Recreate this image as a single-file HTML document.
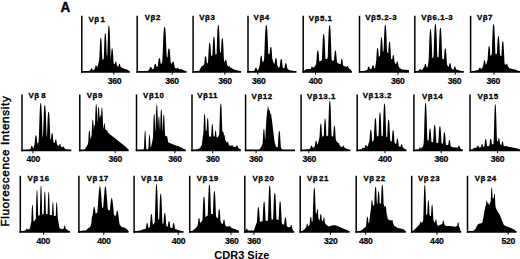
<!DOCTYPE html>
<html><head><meta charset="utf-8"><style>
html,body{margin:0;padding:0;background:#fff;width:520px;height:259px;overflow:hidden}
svg{display:block}
text{font-family:"Liberation Sans",sans-serif;font-weight:bold;fill:#000}
.lb{font-size:7.9px;letter-spacing:0.55px;stroke:#000;stroke-width:0.3px}
.tk{font-size:8.6px;letter-spacing:-0.3px;stroke:#000;stroke-width:0.2px}
</style></head><body>
<svg width="520" height="259" viewBox="0 0 520 259">
<defs><filter id="bl" x="-2%" y="-2%" width="104%" height="104%"><feGaussianBlur stdDeviation="0.3"/></filter></defs>
<g filter="url(#bl)">
<polygon points="81.80,71.80 81.80,71.80 82.05,71.79 82.30,71.76 82.55,71.73 82.80,71.69 83.05,71.66 83.30,71.63 83.55,71.59 83.80,71.56 84.05,71.53 84.30,71.49 84.55,71.46 84.80,71.43 85.05,71.39 85.30,71.36 85.55,71.33 85.80,71.29 86.05,71.26 86.30,71.23 86.55,71.19 86.80,71.16 87.05,71.13 87.30,71.09 87.55,71.06 87.80,71.03 88.05,70.99 88.30,70.91 88.55,70.84 88.80,70.77 89.05,70.70 89.30,70.63 89.55,70.56 89.80,70.49 90.05,70.41 90.30,70.34 90.55,69.67 90.80,68.93 91.05,68.48 91.30,68.32 91.55,68.30 91.80,68.35 92.05,68.62 92.30,69.20 92.55,70.00 92.80,70.00 93.05,70.00 93.30,70.00 93.55,70.00 93.80,70.00 94.05,69.93 94.30,69.57 94.55,69.21 94.80,68.86 95.05,68.02 95.30,66.73 95.55,65.87 95.80,65.48 96.05,65.40 96.30,65.42 96.55,65.66 96.80,66.33 97.05,67.00 97.30,67.00 97.55,66.79 97.80,65.76 98.05,64.73 98.30,63.69 98.55,62.66 98.80,61.63 99.05,60.75 99.30,59.26 99.55,52.68 99.80,46.44 100.05,41.71 100.30,38.94 100.55,37.86 100.80,37.70 101.05,37.86 101.30,38.94 101.55,41.71 101.80,46.44 102.05,52.68 102.30,59.26 102.55,59.40 102.80,59.47 103.05,59.53 103.30,59.60 103.55,59.66 103.80,57.53 104.05,50.05 104.30,42.95 104.55,37.56 104.80,34.41 105.05,33.18 105.30,33.00 105.55,33.18 105.80,34.41 106.05,37.56 106.30,42.95 106.55,50.05 106.80,55.86 107.05,55.64 107.30,54.80 107.55,46.46 107.80,38.42 108.05,32.03 108.30,27.97 108.55,26.08 108.80,25.61 109.05,25.64 109.30,26.32 109.55,28.60 109.80,33.13 110.05,39.93 110.30,48.16 110.55,56.37 110.80,58.86 111.05,55.19 111.30,51.69 111.55,49.53 111.80,48.59 112.05,48.40 112.30,48.46 112.55,49.02 112.80,50.66 113.05,53.65 113.30,57.78 113.55,62.32 113.80,63.67 114.05,64.26 114.30,64.08 114.55,63.90 114.80,63.72 115.05,63.22 115.30,61.98 115.55,61.47 115.80,61.40 116.05,61.47 116.30,61.98 116.55,63.22 116.80,65.00 117.05,65.50 117.30,66.00 117.55,66.50 117.80,66.54 118.05,66.46 118.30,66.38 118.55,66.30 118.80,64.87 119.05,64.03 119.30,63.73 119.55,63.70 119.80,63.80 120.05,64.29 120.30,65.38 120.55,66.73 120.80,66.91 121.05,67.08 121.30,67.25 121.55,67.43 121.80,67.60 122.05,67.78 122.30,67.95 122.55,68.13 122.80,68.30 123.05,68.38 123.30,68.45 123.55,68.53 123.80,68.60 124.05,68.68 124.30,68.76 124.55,68.83 124.80,68.91 125.05,68.98 125.30,69.06 125.55,69.14 125.80,69.21 126.05,69.29 126.30,69.37 126.55,69.44 126.80,69.52 127.05,69.59 127.30,69.67 127.55,69.82 127.80,70.02 128.05,70.23 128.30,70.43 128.55,70.63 128.80,70.83 129.05,71.03 129.30,71.23 129.55,71.44 129.80,71.64 129.90,71.80"/>
<line x1="81.8" y1="15.8" x2="81.8" y2="72.7" stroke="#000" stroke-width="1.5"/>
<line x1="81.05" y1="71.8" x2="129.9" y2="71.8" stroke="#000" stroke-width="1.8"/>
<line x1="113.8" y1="71.8" x2="113.8" y2="74.7" stroke="#000" stroke-width="1"/>
<polygon points="137.20,71.80 137.20,71.80 137.45,71.80 137.70,71.80 137.95,71.80 138.20,71.80 138.45,71.80 138.70,71.80 138.95,71.80 139.20,71.80 139.45,71.80 139.70,71.80 139.95,71.80 140.20,71.80 140.45,71.80 140.70,71.80 140.95,71.80 141.20,71.80 141.45,71.80 141.70,71.80 141.95,71.80 142.20,71.48 142.45,71.45 142.70,71.43 142.95,71.41 143.20,71.38 143.45,71.36 143.70,71.33 143.95,71.31 144.20,71.28 144.45,71.25 144.70,71.23 144.95,71.20 145.20,71.18 145.45,71.16 145.70,71.13 145.95,71.11 146.20,71.08 146.45,71.06 146.70,71.03 146.95,71.00 147.20,70.90 147.45,70.78 147.70,70.65 147.95,70.53 148.20,70.40 148.45,70.28 148.70,70.15 148.95,70.03 149.20,69.69 149.45,68.82 149.70,68.04 149.95,67.47 150.20,67.14 150.45,67.02 150.70,67.00 150.95,67.02 151.20,67.14 151.45,67.47 151.70,68.04 151.95,68.82 152.20,69.13 152.45,69.09 152.70,69.05 152.95,69.01 153.20,68.93 153.45,68.85 153.70,68.77 153.95,67.47 154.20,66.09 154.45,65.00 154.70,64.31 154.95,63.98 155.20,63.90 155.45,63.91 155.70,64.02 155.95,64.41 156.20,65.19 156.45,66.35 156.70,67.30 156.95,67.05 157.20,66.80 157.45,66.55 157.70,66.30 157.95,65.29 158.20,62.82 158.45,60.69 158.70,59.20 158.95,58.40 159.20,58.13 159.45,58.10 159.70,58.19 159.95,58.65 160.20,59.71 160.45,61.47 160.70,63.79 160.95,64.53 161.20,64.05 161.45,63.49 161.70,62.93 161.95,62.36 162.20,61.80 162.45,58.87 162.70,52.79 162.95,46.25 163.20,40.01 163.45,34.76 163.70,30.90 163.95,28.51 164.20,27.36 164.45,27.02 164.70,27.01 164.95,27.24 165.20,28.19 165.45,30.31 165.70,33.87 165.95,38.86 166.20,44.95 166.45,51.50 166.70,56.70 166.95,56.95 167.20,57.20 167.45,57.45 167.70,54.40 167.95,51.60 168.20,49.74 168.45,48.76 168.70,48.43 168.95,48.40 169.20,48.51 169.45,49.06 169.70,50.37 169.95,52.61 170.20,55.74 170.45,59.44 170.70,62.70 170.95,62.95 171.20,63.20 171.45,63.45 171.70,63.70 171.95,63.95 172.20,63.10 172.45,62.07 172.70,61.56 172.95,61.41 173.20,61.40 173.45,61.51 173.70,61.93 173.95,62.85 174.20,64.29 174.45,66.10 174.70,67.52 174.95,67.71 175.20,67.90 175.45,68.09 175.70,68.27 175.95,68.46 176.20,68.54 176.45,68.59 176.70,68.64 176.95,68.27 177.20,67.95 177.45,67.82 177.70,67.80 177.95,67.82 178.20,67.95 178.45,68.27 178.70,68.83 178.95,69.09 179.20,69.14 179.45,69.19 179.70,69.24 179.95,69.29 180.20,69.35 180.45,69.41 180.70,69.24 180.95,68.99 181.20,68.91 181.45,68.90 181.70,68.93 181.95,69.07 182.20,69.39 182.45,69.90 182.70,69.97 182.95,70.04 183.20,70.10 183.45,70.16 183.70,70.22 183.95,70.29 184.20,70.39 184.45,70.50 184.70,70.61 184.95,70.72 185.20,70.83 185.45,70.94 185.70,71.06 185.95,71.17 186.20,71.28 186.45,71.39 186.50,71.80"/>
<line x1="137.2" y1="15.8" x2="137.2" y2="72.7" stroke="#000" stroke-width="1.5"/>
<line x1="136.45" y1="71.8" x2="186.5" y2="71.8" stroke="#000" stroke-width="1.8"/>
<line x1="172.3" y1="71.8" x2="172.3" y2="74.7" stroke="#000" stroke-width="1"/>
<polygon points="193.10,71.80 193.10,71.80 193.35,71.80 193.60,71.80 193.85,71.80 194.10,71.49 194.35,71.45 194.60,71.42 194.85,71.38 195.10,71.35 195.35,71.31 195.60,71.28 195.85,71.24 196.10,71.21 196.35,71.17 196.60,71.14 196.85,71.10 197.10,71.07 197.35,71.03 197.60,71.00 197.85,70.96 198.10,70.93 198.35,70.89 198.60,70.86 198.85,70.82 199.10,70.64 199.35,70.22 199.60,69.81 199.85,69.40 200.10,68.99 200.35,68.57 200.60,68.16 200.85,67.75 201.10,67.43 201.35,66.85 201.60,66.13 201.85,65.84 202.10,65.80 202.35,65.84 202.60,66.13 202.85,66.11 203.10,65.85 203.35,65.48 203.60,65.10 203.85,64.73 204.10,64.35 204.35,63.05 204.60,60.20 204.85,58.03 205.10,56.77 205.35,56.27 205.60,56.20 205.85,56.27 206.10,56.77 206.35,58.03 206.60,60.20 206.85,63.05 207.10,63.64 207.35,63.59 207.60,63.05 207.85,62.50 208.10,61.09 208.35,55.84 208.60,50.77 208.85,46.75 209.10,44.19 209.35,43.00 209.60,42.71 209.85,42.72 210.10,43.15 210.35,44.59 210.60,47.44 210.85,51.73 211.10,56.15 211.35,55.69 211.60,55.55 211.85,55.50 212.10,55.44 212.35,55.38 212.60,51.15 212.85,45.19 213.10,40.65 213.35,37.91 213.60,36.73 213.85,36.50 214.10,36.57 214.35,37.28 214.60,39.34 214.85,43.17 215.10,48.65 215.35,54.59 215.60,54.52 215.85,54.45 216.10,54.33 216.35,54.16 216.60,53.98 216.85,46.53 217.10,38.74 217.35,32.33 217.60,27.97 217.85,25.66 218.10,24.88 218.35,24.80 218.60,25.06 218.85,26.36 219.10,29.45 219.35,34.67 219.60,41.75 219.85,49.77 220.10,51.70 220.35,52.13 220.60,52.57 220.85,53.00 221.10,49.70 221.35,44.46 221.60,40.81 221.85,38.84 222.10,38.17 222.35,38.10 222.60,38.32 222.85,39.44 223.10,42.06 223.35,46.40 223.60,52.09 223.85,58.22 224.10,61.46 224.35,61.53 224.60,61.60 224.85,61.67 225.10,60.78 225.35,59.92 225.60,59.63 225.85,59.60 226.10,59.70 226.35,60.19 226.60,61.32 226.85,63.14 227.10,64.47 227.35,65.04 227.60,65.60 227.85,66.16 228.10,66.55 228.35,66.67 228.60,66.80 228.85,66.24 229.10,66.02 229.35,66.00 229.60,66.07 229.85,66.42 230.10,67.21 230.35,67.67 230.60,67.80 230.85,67.92 231.10,67.99 231.35,67.74 231.60,67.70 231.85,67.74 232.10,67.99 232.35,68.59 232.60,68.80 232.85,68.92 233.10,69.05 233.35,69.17 233.60,69.30 233.85,69.42 234.10,69.53 234.35,69.59 234.60,69.65 234.85,69.71 235.10,69.78 235.35,69.84 235.60,69.90 235.85,69.96 236.10,70.03 236.35,70.09 236.60,70.15 236.85,70.21 237.10,70.28 237.35,70.34 237.60,70.40 237.85,70.46 238.10,70.53 238.35,70.59 238.60,70.65 238.85,70.71 239.10,70.78 239.35,70.84 239.60,70.90 239.85,70.96 240.10,71.03 240.35,71.09 240.60,71.15 240.85,71.21 241.00,71.80"/>
<line x1="193.1" y1="15.8" x2="193.1" y2="72.7" stroke="#000" stroke-width="1.5"/>
<line x1="192.35" y1="71.8" x2="241.0" y2="71.8" stroke="#000" stroke-width="1.8"/>
<line x1="224.9" y1="71.8" x2="224.9" y2="74.7" stroke="#000" stroke-width="1"/>
<polygon points="248.00,71.80 248.00,71.80 248.25,71.80 248.50,71.80 248.75,71.80 249.00,71.50 249.25,71.47 249.50,71.43 249.75,71.39 250.00,71.36 250.25,71.33 250.50,71.29 250.75,71.25 251.00,71.22 251.25,71.19 251.50,71.15 251.75,71.11 252.00,71.08 252.25,71.05 252.50,71.01 252.75,70.97 253.00,70.94 253.25,70.91 253.50,70.87 253.75,70.83 254.00,70.80 254.25,70.75 254.50,70.62 254.75,69.75 255.00,68.86 255.25,68.18 255.50,67.82 255.75,67.71 256.00,67.70 256.25,67.78 256.50,68.08 256.75,68.70 257.00,69.56 257.25,70.20 257.50,70.15 257.75,70.10 258.00,70.06 258.25,70.01 258.50,69.29 258.75,68.41 259.00,67.53 259.25,66.65 259.50,65.76 259.75,64.88 260.00,62.09 260.25,59.23 260.50,57.17 260.75,56.03 261.00,55.64 261.25,55.60 261.50,55.73 261.75,56.38 262.00,57.88 262.25,60.30 262.50,62.14 262.75,61.96 263.00,61.77 263.25,61.59 263.50,61.40 263.75,60.83 264.00,60.27 264.25,55.86 264.50,49.22 264.75,42.42 265.00,36.24 265.25,31.30 265.50,27.90 265.75,25.96 266.00,25.16 266.25,25.00 266.50,25.05 266.75,25.53 267.00,26.96 267.25,29.76 267.50,34.09 267.75,39.83 268.00,46.48 268.25,53.28 268.50,54.03 268.75,53.83 269.00,53.96 269.25,54.09 269.50,54.22 269.75,52.13 270.00,49.36 270.25,47.73 270.50,47.04 270.75,46.90 271.00,46.94 271.25,47.36 271.50,48.58 271.75,50.89 272.00,54.28 272.25,58.41 272.50,59.50 272.75,60.25 273.00,61.00 273.25,61.75 273.50,62.50 273.75,63.25 274.00,63.67 274.25,63.58 274.50,63.50 274.75,62.94 275.00,60.60 275.25,58.99 275.50,58.16 275.75,57.91 276.00,57.90 276.25,58.08 276.50,58.76 276.75,60.21 277.00,62.43 277.25,65.09 277.50,65.82 277.75,66.29 278.00,66.76 278.25,67.23 278.50,67.70 278.75,67.53 279.00,67.36 279.25,67.19 279.50,67.02 279.75,66.61 280.00,64.13 280.25,61.87 280.50,60.24 280.75,59.34 281.00,59.03 281.25,59.00 281.50,59.10 281.75,59.62 282.00,60.80 282.25,62.72 282.50,65.12 282.75,67.55 283.00,67.84 283.25,68.07 283.50,68.30 283.75,68.17 284.00,68.04 284.25,67.91 284.50,67.78 284.75,66.09 285.00,64.58 285.25,63.61 285.50,63.19 285.75,63.10 286.00,63.13 286.25,63.38 286.50,64.12 286.75,65.43 287.00,67.17 287.25,68.25 287.50,68.50 287.75,68.75 288.00,69.00 288.25,69.25 288.50,69.50 288.75,69.75 289.00,70.00 289.25,70.05 289.50,70.11 289.75,70.16 290.00,70.21 290.25,70.27 290.50,70.32 290.75,70.38 291.00,70.43 291.25,70.48 291.50,70.54 291.75,70.59 292.00,70.64 292.25,70.70 292.50,70.75 292.75,70.80 293.00,70.86 293.25,70.91 293.50,70.96 293.75,71.02 294.00,71.07 294.25,71.12 294.50,71.18 294.75,71.23 295.00,71.29 295.25,71.34 295.50,71.39 295.75,71.45 296.00,71.50 296.25,71.80 296.50,71.80 296.50,71.80"/>
<line x1="248.0" y1="15.8" x2="248.0" y2="72.7" stroke="#000" stroke-width="1.5"/>
<line x1="247.25" y1="71.8" x2="296.5" y2="71.8" stroke="#000" stroke-width="1.8"/>
<line x1="257.8" y1="71.8" x2="257.8" y2="74.7" stroke="#000" stroke-width="1"/>
<polygon points="303.20,71.80 303.20,71.35 303.45,71.17 303.70,70.99 303.95,70.80 304.20,70.62 304.45,70.44 304.70,70.25 304.95,70.07 305.20,69.89 305.45,69.70 305.70,69.52 305.95,69.34 306.20,69.28 306.45,69.27 306.70,69.25 306.95,69.23 307.20,69.21 307.45,69.19 307.70,69.17 307.95,69.15 308.20,69.14 308.45,69.12 308.70,69.10 308.95,69.08 309.20,69.06 309.45,69.04 309.70,69.02 309.95,69.00 310.20,68.93 310.45,68.85 310.70,68.77 310.95,68.68 311.20,67.68 311.45,66.98 311.70,66.66 311.95,66.60 312.20,66.62 312.45,66.81 312.70,67.35 312.95,68.02 313.20,67.82 313.45,67.59 313.70,67.36 313.95,67.14 314.20,66.91 314.45,66.68 314.70,66.45 314.95,66.23 315.20,66.00 315.45,65.44 315.70,64.89 315.95,64.33 316.20,63.78 316.45,60.06 316.70,56.34 316.95,53.38 317.20,51.50 317.45,50.62 317.70,50.41 317.95,50.42 318.20,50.73 318.45,51.79 318.70,53.89 318.95,57.04 319.20,60.85 319.45,61.53 319.70,61.48 319.95,61.43 320.20,61.32 320.45,61.11 320.70,60.90 320.95,60.70 321.20,60.49 321.45,60.28 321.70,60.08 321.95,59.10 322.20,52.78 322.45,46.40 322.70,40.96 322.95,37.11 323.20,34.95 323.45,34.12 323.70,34.00 323.95,34.12 324.20,34.95 324.45,37.11 324.70,40.96 324.95,46.40 325.20,52.78 325.45,59.00 325.70,59.00 325.95,59.00 326.20,58.97 326.45,58.88 326.70,58.79 326.95,58.71 327.20,58.62 327.45,58.53 327.70,57.36 327.95,50.14 328.20,42.56 328.45,35.74 328.70,30.50 328.95,27.15 329.20,25.51 329.45,25.03 329.70,25.01 329.95,25.34 330.20,26.70 330.45,29.68 330.70,34.55 330.95,41.11 331.20,48.61 331.45,56.00 331.70,60.16 331.95,60.36 332.20,60.56 332.45,60.76 332.70,60.74 332.95,60.66 333.20,60.58 333.45,60.50 333.70,60.42 333.95,60.34 334.20,57.77 334.45,54.44 334.70,52.12 334.95,50.87 335.20,50.44 335.45,50.40 335.70,50.54 335.95,51.25 336.20,52.91 336.45,55.67 336.70,59.28 336.95,62.24 337.20,62.53 337.45,62.81 337.70,63.10 337.95,63.20 338.20,63.30 338.45,63.39 338.70,63.49 338.95,63.59 339.20,63.69 339.45,63.78 339.70,63.88 339.95,63.98 340.20,64.10 340.45,64.22 340.70,63.92 340.95,61.57 341.20,59.97 341.45,59.20 341.70,59.00 341.95,59.02 342.20,59.30 342.45,60.22 342.70,61.99 342.95,64.45 343.20,65.56 343.45,65.68 343.70,65.80 343.95,65.93 344.20,66.03 344.45,66.12 344.70,66.21 344.95,66.29 345.20,66.38 345.45,66.47 345.70,66.55 345.95,66.64 346.20,66.72 346.45,66.81 346.70,66.90 346.95,66.68 347.20,66.17 347.45,66.01 347.70,66.00 347.95,66.11 348.20,66.54 348.45,67.41 348.70,68.13 348.95,68.30 349.20,68.47 349.45,68.63 349.70,68.80 349.95,68.97 350.20,69.25 350.45,69.56 350.70,69.87 350.95,70.19 351.20,70.50 351.45,70.81 351.70,71.12 351.95,71.44 352.00,71.80"/>
<line x1="303.2" y1="15.8" x2="303.2" y2="72.7" stroke="#000" stroke-width="1.5"/>
<line x1="302.45" y1="71.8" x2="352.0" y2="71.8" stroke="#000" stroke-width="1.8"/>
<line x1="315.5" y1="71.8" x2="315.5" y2="74.7" stroke="#000" stroke-width="1"/>
<polygon points="359.50,71.80 359.50,71.80 359.75,71.80 360.00,71.50 360.25,71.46 360.50,71.42 360.75,71.38 361.00,71.33 361.25,71.29 361.50,71.25 361.75,71.21 362.00,71.17 362.25,71.12 362.50,71.08 362.75,71.04 363.00,71.00 363.25,70.96 363.50,70.92 363.75,70.88 364.00,70.83 364.25,70.79 364.50,70.75 364.75,70.71 365.00,70.67 365.25,70.62 365.50,70.58 365.75,70.54 366.00,70.50 366.25,70.38 366.50,70.25 366.75,70.12 367.00,70.00 367.25,69.88 367.50,69.43 367.75,68.28 368.00,67.35 368.25,66.81 368.50,66.62 368.75,66.60 369.00,66.66 369.25,66.98 369.50,67.68 369.75,68.73 370.00,69.10 370.25,69.05 370.50,69.00 370.75,68.95 371.00,68.90 371.25,68.79 371.50,68.68 371.75,68.56 372.00,67.55 372.25,66.27 372.50,65.47 372.75,65.15 373.00,65.10 373.25,65.15 373.50,65.47 373.75,66.27 374.00,67.55 374.25,68.19 374.50,68.22 374.75,68.26 375.00,68.30 375.25,66.86 375.50,65.42 375.75,63.99 376.00,62.55 376.25,60.37 376.50,55.82 376.75,52.04 377.00,49.57 377.25,48.40 377.50,48.11 377.75,48.12 378.00,48.55 378.25,49.95 378.50,52.70 378.75,56.70 379.00,56.86 379.25,56.57 379.50,56.34 379.75,56.12 380.00,55.89 380.25,50.26 380.50,44.62 380.75,40.50 381.00,38.14 381.25,37.23 381.50,37.10 381.75,37.23 382.00,38.14 382.25,40.50 382.50,44.62 382.75,50.26 383.00,51.67 383.25,51.38 383.50,51.18 383.75,46.98 384.00,39.55 384.25,33.26 384.50,28.75 384.75,26.12 385.00,25.02 385.25,24.80 385.50,24.86 385.75,25.53 386.00,27.48 386.25,31.23 386.50,36.85 386.75,43.93 387.00,51.56 387.25,52.18 387.50,52.58 387.75,52.99 388.00,53.39 388.25,53.12 388.50,48.22 388.75,44.65 389.00,42.60 389.25,41.81 389.50,41.70 389.75,41.81 390.00,42.60 390.25,44.65 390.50,48.22 390.75,53.12 391.00,58.48 391.25,58.91 391.50,59.00 391.75,59.00 392.00,59.00 392.25,59.00 392.50,57.36 392.75,55.81 393.00,55.13 393.25,55.00 393.50,55.04 393.75,55.45 394.00,56.62 394.25,58.77 394.50,61.73 394.75,62.58 395.00,63.09 395.25,63.60 395.50,63.73 395.75,63.77 396.00,63.80 396.25,63.84 396.50,63.17 396.75,62.01 397.00,61.50 397.25,61.40 397.50,61.43 397.75,61.74 398.00,62.62 398.25,64.19 398.50,66.11 398.75,66.55 399.00,67.00 399.25,67.44 399.50,67.77 399.75,67.94 400.00,68.12 400.25,68.29 400.50,68.46 400.75,68.63 401.00,68.81 401.25,68.98 401.50,69.15 401.75,69.33 402.00,69.50 402.25,69.52 402.50,69.54 402.75,69.55 403.00,69.57 403.25,69.59 403.50,69.61 403.75,69.62 404.00,69.64 404.25,69.66 404.50,69.68 404.75,69.70 405.00,69.71 405.25,69.73 405.50,69.75 405.75,69.77 406.00,69.79 406.25,69.80 406.50,69.82 406.75,69.84 407.00,69.86 407.25,69.88 407.50,69.89 407.75,69.91 408.00,69.93 408.25,69.95 408.50,69.96 408.75,69.98 409.00,70.00 409.00,71.80"/>
<line x1="359.5" y1="15.8" x2="359.5" y2="72.7" stroke="#000" stroke-width="1.5"/>
<line x1="358.75" y1="71.8" x2="409.0" y2="71.8" stroke="#000" stroke-width="1.8"/>
<line x1="398.0" y1="71.8" x2="398.0" y2="74.7" stroke="#000" stroke-width="1"/>
<polygon points="414.80,71.80 414.80,71.80 415.05,71.49 415.30,71.42 415.55,71.36 415.80,71.30 416.05,71.24 416.30,71.17 416.55,71.11 416.80,71.05 417.05,70.99 417.30,70.92 417.55,70.86 417.80,70.80 418.05,70.74 418.30,70.67 418.55,70.61 418.80,70.55 419.05,70.49 419.30,70.12 419.55,69.44 419.80,69.04 420.05,68.91 420.30,68.90 420.55,68.99 420.80,69.33 421.05,69.97 421.30,70.12 421.55,70.08 421.80,70.03 422.05,69.93 422.30,69.60 422.55,69.27 422.80,68.93 423.05,68.60 423.30,68.27 423.55,67.93 423.80,67.60 424.05,67.27 424.30,66.93 424.55,65.48 424.80,64.50 425.05,64.02 425.30,63.90 425.55,63.91 425.80,64.08 426.05,64.65 426.30,65.74 426.55,67.05 426.80,67.22 427.05,67.39 427.30,67.56 427.55,67.39 427.80,65.84 428.05,64.28 428.30,62.73 428.55,61.17 428.80,56.05 429.05,48.79 429.30,41.69 429.55,35.85 429.80,31.89 430.05,29.79 430.30,29.07 430.55,29.00 430.80,29.23 431.05,30.43 431.30,33.24 431.55,37.98 431.80,44.43 432.05,51.74 432.30,57.99 432.55,57.91 432.80,57.83 433.05,57.73 433.30,57.64 433.55,55.66 433.80,48.12 434.05,40.45 434.30,33.75 434.55,28.78 434.80,25.74 435.05,24.35 435.30,24.01 435.55,24.03 435.80,24.52 436.05,26.20 436.30,29.62 436.55,34.97 436.80,41.94 437.05,49.67 437.30,57.05 437.55,57.29 437.80,57.27 438.05,57.24 438.30,57.21 438.55,57.18 438.80,52.60 439.05,45.01 439.30,38.09 439.55,32.79 439.80,29.50 440.05,27.98 440.30,27.61 440.55,27.63 440.80,28.17 441.05,30.00 441.30,33.70 441.55,39.37 441.80,46.52 442.05,54.09 442.30,58.64 442.55,58.82 442.80,59.00 443.05,59.11 443.30,59.23 443.55,59.34 443.80,59.45 444.05,57.27 444.30,53.47 444.55,50.69 444.80,49.10 445.05,48.49 445.30,48.40 445.55,48.49 445.80,49.10 446.05,50.69 446.30,53.47 446.55,57.27 446.80,61.53 447.05,64.51 447.30,65.06 447.55,65.61 447.80,66.16 448.05,66.60 448.30,66.58 448.55,66.57 448.80,66.56 449.05,65.43 449.30,64.12 449.55,63.38 449.80,63.13 450.05,63.10 450.30,63.19 450.55,63.61 450.80,64.58 451.05,66.09 451.30,67.89 451.55,68.29 451.80,68.58 452.05,68.87 452.30,69.15 452.55,69.44 452.80,69.46 453.05,69.41 453.30,69.35 453.55,69.30 453.80,68.96 454.05,67.87 454.30,67.09 454.55,66.70 454.80,66.60 455.05,66.61 455.30,66.75 455.55,67.21 455.80,68.07 456.05,69.20 456.30,69.43 456.55,69.52 456.80,69.60 457.05,69.68 457.30,69.77 457.55,69.85 457.80,69.93 458.05,70.02 458.30,70.09 458.55,70.17 458.80,70.24 459.05,70.31 459.30,70.39 459.55,70.47 459.80,70.54 460.05,70.62 460.30,70.69 460.55,70.77 460.80,70.84 461.05,70.92 461.30,70.99 461.55,71.06 461.80,71.14 462.05,71.22 462.30,71.29 462.55,71.37 462.80,71.44 463.05,71.80 463.30,71.80 463.55,71.80 463.80,71.80 463.80,71.80"/>
<line x1="414.8" y1="15.8" x2="414.8" y2="72.7" stroke="#000" stroke-width="1.5"/>
<line x1="414.05" y1="71.8" x2="463.8" y2="71.8" stroke="#000" stroke-width="1.8"/>
<line x1="455.2" y1="71.8" x2="455.2" y2="74.7" stroke="#000" stroke-width="1"/>
<polygon points="470.60,71.80 470.60,71.80 470.85,71.80 471.10,71.48 471.35,71.43 471.60,71.38 471.85,71.33 472.10,71.28 472.35,71.23 472.60,71.18 472.85,71.13 473.10,71.08 473.35,71.03 473.60,70.98 473.85,70.93 474.10,70.88 474.35,70.83 474.60,70.78 474.85,70.73 475.10,70.68 475.35,70.63 475.60,70.58 475.85,70.53 476.10,70.47 476.35,70.38 476.60,70.30 476.85,70.22 477.10,70.13 477.35,70.05 477.60,69.97 477.85,69.88 478.10,69.80 478.35,69.72 478.60,69.63 478.85,69.02 479.10,68.29 479.35,67.87 479.60,67.71 479.85,67.70 480.10,67.75 480.35,68.00 480.60,68.55 480.85,68.81 481.10,68.71 481.35,68.62 481.60,68.52 481.85,68.43 482.10,68.34 482.35,67.86 482.60,67.12 482.85,66.39 483.10,65.65 483.35,64.91 483.60,62.91 483.85,61.30 484.10,60.47 484.35,60.21 484.60,60.20 484.85,60.38 485.10,61.08 485.35,62.53 485.60,64.31 485.85,64.51 486.10,64.72 486.35,64.23 486.60,63.29 486.85,62.34 487.10,61.40 487.35,60.46 487.60,59.51 487.85,55.85 488.10,51.67 488.35,48.62 488.60,46.87 488.85,46.20 489.10,46.10 489.35,46.20 489.60,46.87 489.85,48.62 490.10,51.67 490.35,55.85 490.60,55.77 490.85,55.54 491.10,55.25 491.35,54.95 491.60,54.65 491.85,52.73 492.10,45.00 492.35,37.60 492.60,31.53 492.85,27.34 493.10,25.01 493.35,24.13 493.60,24.00 493.85,24.13 494.10,25.01 494.35,27.34 494.60,31.53 494.85,37.60 495.10,45.00 495.35,52.73 495.60,54.21 495.85,54.33 496.10,54.33 496.35,54.15 496.60,53.98 496.85,53.80 497.10,48.91 497.35,43.52 497.60,39.54 497.85,37.19 498.10,36.20 498.35,36.00 498.60,36.06 498.85,36.66 499.10,38.41 499.35,41.73 499.60,46.62 499.85,52.55 500.10,55.37 500.35,55.61 500.60,55.64 500.85,55.68 501.10,55.72 501.35,55.76 501.60,51.67 501.85,46.90 502.10,43.57 502.35,41.78 502.60,41.16 502.85,41.10 503.10,41.30 503.35,42.32 503.60,44.71 503.85,48.66 504.10,53.84 504.35,59.43 504.60,63.81 504.85,64.35 505.10,64.42 505.35,64.50 505.60,64.57 505.85,64.65 506.10,64.65 506.35,63.96 506.60,63.72 506.85,63.70 507.10,63.78 507.35,64.18 507.60,65.08 507.85,66.17 508.10,66.51 508.35,66.86 508.60,67.20 508.85,67.54 509.10,67.89 509.35,68.23 509.60,68.34 509.85,68.40 510.10,68.45 510.35,68.50 510.60,68.56 510.85,68.61 511.10,68.66 511.35,68.72 511.60,68.77 511.85,68.83 512.10,68.88 512.35,68.93 512.60,68.99 512.85,69.04 513.10,69.09 513.35,69.15 513.60,69.20 513.85,69.25 514.10,69.31 514.35,69.36 514.60,69.41 514.85,69.47 515.10,69.54 515.35,69.64 515.60,69.74 515.85,69.84 516.10,69.94 516.35,70.04 516.60,70.14 516.85,70.24 517.10,70.34 517.35,70.44 517.60,70.54 517.85,70.64 518.10,70.74 518.35,70.84 518.60,70.94 518.85,71.04 519.10,71.14 519.35,71.24 519.60,71.34 519.85,71.44 520.10,71.80 520.35,71.80 520.50,71.80"/>
<line x1="470.6" y1="15.8" x2="470.6" y2="72.7" stroke="#000" stroke-width="1.5"/>
<line x1="469.85" y1="71.8" x2="520.5" y2="71.8" stroke="#000" stroke-width="1.8"/>
<line x1="494.0" y1="71.8" x2="494.0" y2="74.7" stroke="#000" stroke-width="1"/>
<polygon points="22.00,150.30 22.00,150.30 22.25,150.30 22.50,150.30 22.75,150.27 23.00,150.25 23.25,150.22 23.50,150.19 23.75,150.17 24.00,150.14 24.25,150.11 24.50,150.09 24.75,150.06 25.00,150.03 25.25,150.01 25.50,149.98 25.75,149.95 26.00,149.93 26.25,149.90 26.50,149.87 26.75,149.85 27.00,149.82 27.25,149.79 27.50,149.77 27.75,149.74 28.00,149.71 28.25,149.69 28.50,149.66 28.75,149.63 29.00,149.61 29.25,149.58 29.50,149.55 29.75,149.53 30.00,149.50 30.25,149.29 30.50,149.01 30.75,147.95 31.00,146.88 31.25,146.12 31.50,145.77 31.75,145.70 32.00,145.72 32.25,145.94 32.50,146.53 32.75,147.50 33.00,148.00 33.25,148.00 33.50,148.00 33.75,147.36 34.00,146.29 34.25,145.21 34.50,144.14 34.75,141.68 35.00,138.80 35.25,136.73 35.50,135.65 35.75,135.32 36.00,135.31 36.25,135.53 36.50,136.44 36.75,138.31 37.00,141.07 37.25,143.05 37.50,143.17 37.75,143.28 38.00,143.40 38.25,142.85 38.50,142.30 38.75,139.87 39.00,132.94 39.25,124.92 39.50,117.10 39.75,110.66 40.00,106.28 40.25,103.97 40.50,103.18 40.75,103.10 41.00,103.36 41.25,104.67 41.50,107.77 41.75,113.01 42.00,120.12 42.25,128.18 42.50,135.90 42.75,136.93 43.00,136.51 43.25,129.12 43.50,121.40 43.75,114.59 44.00,109.57 44.25,106.61 44.50,105.35 44.75,105.10 45.00,105.17 45.25,105.93 45.50,108.15 45.75,112.34 46.00,118.50 46.25,126.00 46.50,133.67 46.75,137.00 47.00,136.10 47.25,129.13 47.50,122.41 47.75,117.07 48.00,113.68 48.25,112.10 48.50,111.71 48.75,111.73 49.00,112.30 49.25,114.20 49.50,117.99 49.75,123.67 50.00,130.55 50.25,137.41 50.50,139.44 50.75,139.53 51.00,139.62 51.25,136.47 51.50,134.31 51.75,133.27 52.00,133.01 52.25,133.02 52.50,133.40 52.75,134.65 53.00,137.04 53.25,140.36 53.50,142.33 53.75,142.72 54.00,142.82 54.25,142.84 54.50,142.86 54.75,142.89 55.00,141.67 55.25,140.19 55.50,139.53 55.75,139.40 56.00,139.44 56.25,139.84 56.50,140.98 56.75,142.92 57.00,144.42 57.25,144.78 57.50,145.13 57.75,145.49 58.00,145.71 58.25,145.75 58.50,145.79 58.75,145.82 59.00,145.86 59.25,145.36 59.50,144.44 59.75,144.06 60.00,144.00 60.25,144.06 60.50,144.44 60.75,145.36 61.00,146.56 61.25,146.70 61.50,146.84 61.75,146.95 62.00,147.03 62.25,147.12 62.50,147.20 62.75,147.21 63.00,146.68 63.25,146.51 63.50,146.50 63.75,146.62 64.00,147.07 64.25,147.90 64.50,148.26 64.75,148.43 65.00,148.61 65.25,148.78 65.50,148.95 65.75,149.13 66.00,149.30 66.25,149.35 66.50,149.39 66.75,149.44 67.00,149.48 67.25,149.53 67.50,149.57 67.75,149.62 68.00,149.66 68.25,149.71 68.50,149.75 68.75,149.80 69.00,149.85 69.25,149.89 69.50,149.94 69.75,149.98 70.00,150.03 70.25,150.07 70.50,150.12 70.75,150.16 71.00,150.21 71.25,150.25 71.30,150.30"/>
<line x1="22.0" y1="94.4" x2="22.0" y2="151.20000000000002" stroke="#000" stroke-width="1.5"/>
<line x1="21.25" y1="150.3" x2="71.3" y2="150.3" stroke="#000" stroke-width="1.8"/>
<line x1="33.0" y1="150.3" x2="33.0" y2="153.20000000000002" stroke="#000" stroke-width="1"/>
<polygon points="79.80,150.30 79.80,150.30 80.05,150.29 80.30,150.26 80.55,150.23 80.80,150.20 81.05,150.17 81.30,150.14 81.55,150.11 81.80,150.08 82.05,150.04 82.30,150.01 82.55,149.98 82.80,149.95 83.05,149.92 83.30,149.89 83.55,149.86 83.80,149.83 84.05,149.76 84.30,149.55 84.55,149.34 84.80,149.13 85.05,148.93 85.30,148.63 85.55,148.20 85.80,147.78 86.05,147.35 86.30,146.93 86.55,146.50 86.80,146.07 87.05,145.65 87.30,145.22 87.55,144.80 87.80,144.37 88.05,143.76 88.30,141.13 88.55,136.42 88.80,132.83 89.05,130.99 89.30,130.51 89.55,130.54 89.80,131.22 90.05,133.41 90.30,137.31 90.55,139.52 90.80,138.62 91.05,137.71 91.30,136.81 91.55,135.90 91.80,130.76 92.05,124.88 92.30,121.20 92.55,119.72 92.80,119.50 93.05,119.72 93.30,121.20 93.55,124.88 93.80,129.72 94.05,127.32 94.30,125.39 94.55,125.00 94.80,125.12 95.05,123.76 95.30,114.88 95.55,108.50 95.80,105.17 96.05,104.16 96.30,104.12 96.55,104.82 96.80,107.60 97.05,113.36 97.30,121.86 97.55,121.77 97.80,114.20 98.05,109.36 98.30,107.23 98.55,106.80 98.80,106.93 99.05,108.22 99.30,111.91 99.55,118.47 99.80,117.46 100.05,115.32 100.30,115.00 100.55,115.32 100.80,117.46 101.05,116.16 101.30,110.83 101.55,108.26 101.80,107.62 102.05,107.65 102.30,108.58 102.55,111.67 102.80,117.56 103.05,125.77 103.30,128.52 103.55,128.62 103.80,125.74 104.05,123.72 104.30,123.21 104.55,123.24 104.80,123.98 105.05,126.38 105.30,129.52 105.55,129.79 105.80,130.05 106.05,130.32 106.30,130.59 106.55,130.20 106.80,129.81 107.05,129.83 107.30,130.39 107.55,131.92 107.80,132.19 108.05,132.45 108.30,132.70 108.55,132.95 108.80,133.20 109.05,133.45 109.30,133.70 109.55,133.95 109.80,134.20 110.05,134.44 110.30,134.63 110.55,134.83 110.80,135.02 111.05,135.22 111.30,135.41 111.55,135.61 111.80,135.80 112.05,136.00 112.30,136.19 112.55,136.39 112.80,136.58 113.05,136.78 113.30,136.97 113.55,137.17 113.80,137.36 114.05,137.56 114.30,137.75 114.55,137.95 114.80,138.14 115.05,138.34 115.30,138.54 115.55,138.74 115.80,138.94 116.05,139.14 116.30,139.34 116.55,139.54 116.80,139.74 117.05,139.94 117.30,140.14 117.55,140.34 117.80,140.54 118.05,140.74 118.30,140.94 118.55,141.14 118.80,141.34 119.05,141.54 119.30,141.74 119.55,141.94 119.80,142.14 120.05,142.34 120.30,142.53 120.55,142.73 120.80,142.92 121.05,143.12 121.30,143.31 121.55,143.51 121.80,143.70 122.05,143.90 122.30,144.09 122.55,144.29 122.80,144.48 123.05,144.68 123.30,144.87 123.55,145.07 123.80,145.26 124.05,145.46 124.30,145.65 124.55,145.85 124.80,146.04 125.05,146.24 125.30,146.47 125.55,146.69 125.80,146.92 126.05,147.14 126.30,147.37 126.55,147.59 126.80,147.82 127.05,148.07 127.30,148.41 127.55,148.74 127.80,149.08 128.05,149.42 128.30,149.76 128.55,150.10 128.70,150.30"/>
<line x1="79.8" y1="94.4" x2="79.8" y2="151.20000000000002" stroke="#000" stroke-width="1.5"/>
<line x1="79.05" y1="150.3" x2="128.7" y2="150.3" stroke="#000" stroke-width="1.8"/>
<line x1="115.2" y1="150.3" x2="115.2" y2="153.20000000000002" stroke="#000" stroke-width="1"/>
<polygon points="136.50,150.30 136.50,150.30 136.75,150.30 137.00,150.30 137.25,150.28 137.50,150.26 137.75,150.24 138.00,150.22 138.25,150.20 138.50,150.18 138.75,150.15 139.00,150.13 139.25,150.11 139.50,150.09 139.75,150.07 140.00,150.05 140.25,150.03 140.50,150.01 140.75,149.99 141.00,149.97 141.25,149.95 141.50,149.93 141.75,149.90 142.00,149.88 142.25,149.86 142.50,149.84 142.75,149.82 143.00,149.80 143.25,149.79 143.50,149.77 143.75,149.62 144.00,147.11 144.25,141.77 144.50,135.58 144.75,131.63 145.00,130.53 145.25,130.59 145.50,132.16 145.75,136.71 146.00,143.02 146.25,147.84 146.50,149.59 146.75,149.57 147.00,149.56 147.25,149.55 147.50,149.53 147.75,149.51 148.00,149.50 148.25,149.21 148.50,146.27 148.75,141.39 149.00,136.91 149.25,134.74 149.50,134.40 149.75,134.74 150.00,136.91 150.25,141.39 150.50,146.27 150.75,148.06 151.00,147.11 151.25,146.17 151.50,145.11 151.75,143.87 152.00,142.64 152.25,141.40 152.50,140.17 152.75,138.93 153.00,136.87 153.25,128.08 153.50,120.37 153.75,115.67 154.00,113.97 154.25,113.80 154.50,114.37 154.75,117.15 155.00,123.16 155.25,130.90 155.50,130.80 155.75,123.38 156.00,114.18 156.25,108.03 156.50,105.26 156.75,104.70 157.00,104.87 157.25,106.55 157.50,111.29 157.75,119.43 158.00,128.07 158.25,121.38 158.50,117.63 158.75,116.47 159.00,116.42 159.25,117.23 159.50,120.38 159.75,126.54 160.00,131.00 160.25,126.03 160.50,117.74 160.75,112.20 161.00,109.70 161.25,109.20 161.50,109.35 161.75,110.87 162.00,115.14 162.25,122.48 162.50,130.62 162.75,131.04 163.00,123.61 163.25,117.70 163.50,114.96 163.75,114.40 164.00,114.57 164.25,116.24 164.50,120.86 164.75,128.44 165.00,135.27 165.25,135.72 165.50,135.81 165.75,135.89 166.00,135.98 166.25,136.07 166.50,136.16 166.75,136.24 167.00,136.33 167.25,136.70 167.50,138.17 167.75,139.65 168.00,141.12 168.25,142.32 168.50,142.43 168.75,142.55 169.00,142.66 169.25,142.77 169.50,142.88 169.75,142.99 170.00,143.11 170.25,143.22 170.50,143.33 170.75,143.44 171.00,143.56 171.25,143.66 171.50,143.75 171.75,143.85 172.00,143.94 172.25,144.03 172.50,144.13 172.75,144.22 173.00,144.32 173.25,144.41 173.50,144.51 173.75,144.60 174.00,144.69 174.25,144.79 174.50,144.88 174.75,144.98 175.00,145.07 175.25,145.17 175.50,145.26 175.75,145.35 176.00,145.45 176.25,145.54 176.50,145.64 176.75,145.73 177.00,145.82 177.25,145.91 177.50,146.00 177.75,146.09 178.00,146.18 178.25,146.28 178.50,146.37 178.75,146.46 179.00,146.55 179.25,146.64 179.50,146.73 179.75,146.82 180.00,146.92 180.25,147.01 180.50,147.10 180.75,147.19 181.00,147.28 181.25,147.37 181.50,147.46 181.75,147.60 182.00,147.77 182.25,147.94 182.50,148.11 182.75,148.29 183.00,148.46 183.25,148.63 183.50,148.80 183.75,148.97 184.00,149.14 184.25,149.31 184.50,149.48 184.75,149.65 185.00,149.82 185.25,149.99 185.50,150.16 185.75,150.30 185.80,150.30"/>
<line x1="136.5" y1="94.4" x2="136.5" y2="151.20000000000002" stroke="#000" stroke-width="1.5"/>
<line x1="135.75" y1="150.3" x2="185.8" y2="150.3" stroke="#000" stroke-width="1.8"/>
<line x1="174.9" y1="150.3" x2="174.9" y2="153.20000000000002" stroke="#000" stroke-width="1"/>
<polygon points="192.00,150.30 192.00,150.30 192.25,150.30 192.50,150.27 192.75,150.22 193.00,150.18 193.25,150.14 193.50,150.10 193.75,150.05 194.00,150.01 194.25,149.97 194.50,149.93 194.75,149.88 195.00,149.84 195.25,149.80 195.50,149.76 195.75,149.71 196.00,149.67 196.25,149.63 196.50,149.59 196.75,149.54 197.00,149.50 197.25,149.38 197.50,149.25 197.75,149.12 198.00,149.00 198.25,148.88 198.50,148.75 198.75,148.62 199.00,148.50 199.25,148.38 199.50,148.25 199.75,148.12 200.00,148.00 200.25,147.58 200.50,147.17 200.75,146.75 201.00,146.33 201.25,145.92 201.50,145.50 201.75,145.08 202.00,143.39 202.25,141.37 202.50,139.35 202.75,137.33 203.00,135.31 203.25,133.65 203.50,130.38 203.75,122.70 204.00,117.22 204.25,114.51 204.50,113.82 204.75,113.86 205.00,114.85 205.25,118.09 205.50,124.11 205.75,130.98 206.00,130.71 206.25,130.56 206.50,130.85 206.75,128.37 207.00,122.58 207.25,119.22 207.50,118.02 207.75,117.90 208.00,118.30 208.25,120.26 208.50,124.64 208.75,131.17 209.00,135.41 209.25,135.98 209.50,136.55 209.75,136.98 210.00,136.87 210.25,136.76 210.50,136.65 210.75,136.54 211.00,136.43 211.25,134.71 211.50,129.39 211.75,125.83 212.00,124.22 212.25,123.90 212.50,124.00 212.75,124.97 213.00,127.72 213.25,132.43 213.50,136.30 213.75,136.35 214.00,136.40 214.25,136.34 214.50,136.28 214.75,136.21 215.00,132.83 215.25,130.99 215.50,130.51 215.75,130.54 216.00,131.22 216.25,133.41 216.50,136.76 216.75,136.98 217.00,137.19 217.25,137.40 217.50,137.62 217.75,137.41 218.00,136.92 218.25,136.43 218.50,135.94 218.75,135.45 219.00,134.96 219.25,134.47 219.50,125.89 219.75,117.09 220.00,110.09 220.25,105.75 220.50,103.87 220.75,103.50 221.00,103.61 221.25,104.75 221.50,108.02 221.75,114.00 222.00,122.25 222.25,131.22 222.50,131.22 222.75,131.51 223.00,131.81 223.25,132.10 223.50,132.40 223.75,133.67 224.00,134.94 224.25,134.90 224.50,135.14 224.75,136.31 225.00,138.85 225.25,139.93 225.50,140.44 225.75,140.96 226.00,141.47 226.25,141.99 226.50,142.35 226.75,142.49 227.00,142.62 227.25,142.05 227.50,141.64 227.75,141.60 228.00,141.73 228.25,142.40 228.50,143.83 228.75,144.61 229.00,144.99 229.25,145.37 229.50,145.62 229.75,145.65 230.00,145.69 230.25,145.73 230.50,145.77 230.75,145.81 231.00,145.85 231.25,145.88 231.50,145.28 231.75,144.95 232.00,144.90 232.25,144.95 232.50,145.28 232.75,146.07 233.00,146.48 233.25,146.60 233.50,146.72 233.75,146.84 234.00,146.96 234.25,147.08 234.50,147.05 234.75,147.00 235.00,146.94 235.25,146.88 235.50,146.82 235.75,146.77 236.00,146.71 236.25,146.03 236.50,145.48 236.75,145.31 237.00,145.30 237.25,145.42 237.50,145.89 237.75,146.80 238.00,147.46 238.25,147.67 238.50,147.89 238.75,148.11 239.00,148.33 239.25,148.54 239.50,148.73 239.75,148.93 240.00,149.13 240.25,149.32 240.50,149.52 240.75,149.71 240.80,150.30"/>
<line x1="192.0" y1="94.4" x2="192.0" y2="151.20000000000002" stroke="#000" stroke-width="1.5"/>
<line x1="191.25" y1="150.3" x2="240.8" y2="150.3" stroke="#000" stroke-width="1.8"/>
<line x1="212.7" y1="150.3" x2="212.7" y2="153.20000000000002" stroke="#000" stroke-width="1"/>
<polygon points="245.60,150.30 245.60,150.29 245.85,150.28 246.10,150.28 246.35,150.27 246.60,150.27 246.85,150.26 247.10,150.26 247.35,150.25 247.60,150.24 247.85,150.24 248.10,150.23 248.35,150.23 248.60,150.22 248.85,150.22 249.10,150.21 249.35,150.21 249.60,150.20 249.85,150.20 250.10,150.19 250.35,150.19 250.60,150.18 250.85,150.17 251.10,150.17 251.35,150.16 251.60,150.16 251.85,150.15 252.10,150.15 252.35,150.14 252.60,150.14 252.85,150.13 253.10,150.13 253.35,150.12 253.60,150.12 253.85,150.11 254.10,150.11 254.35,150.10 254.60,150.09 254.85,150.09 255.10,150.08 255.35,150.08 255.60,150.07 255.85,150.07 256.10,150.06 256.35,150.06 256.60,150.05 256.85,150.05 257.10,150.04 257.35,150.04 257.60,150.03 257.85,150.02 258.10,150.02 258.35,150.01 258.60,150.01 258.85,150.00 259.10,149.86 259.35,149.50 259.60,149.14 259.85,148.79 260.10,148.43 260.35,148.07 260.60,147.71 260.85,147.36 261.10,147.00 261.35,146.47 261.60,145.95 261.85,145.42 262.10,144.89 262.35,144.37 262.60,143.84 262.85,139.40 263.10,134.46 263.35,130.96 263.60,129.33 263.85,129.00 264.10,129.10 264.35,130.09 264.60,132.83 264.85,137.33 265.10,140.23 265.35,137.36 265.60,132.79 265.85,128.22 266.10,123.65 266.35,119.50 266.60,117.00 266.85,114.50 267.10,112.00 267.35,109.81 267.60,108.87 267.85,106.60 268.10,106.20 268.35,106.60 268.60,108.69 268.85,109.54 269.10,110.38 269.35,110.77 269.60,110.30 269.85,110.77 270.10,112.91 270.35,113.45 270.60,113.98 270.85,114.49 271.10,114.43 271.35,115.54 271.60,118.33 271.85,119.47 272.10,121.40 272.35,123.53 272.60,125.65 272.85,127.78 273.10,129.90 273.35,132.03 273.60,134.17 273.85,136.30 274.10,138.44 274.35,140.57 274.60,141.75 274.85,142.68 275.10,143.61 275.35,144.55 275.60,145.48 275.85,146.41 276.10,146.72 276.35,146.87 276.60,147.02 276.85,147.17 277.10,147.32 277.35,147.47 277.60,147.53 277.85,145.46 278.10,141.46 278.35,137.17 278.60,133.70 278.85,131.69 279.10,130.97 279.35,130.90 279.60,131.14 279.85,132.31 280.10,134.93 280.35,138.85 280.60,143.16 280.85,146.74 281.10,148.00 281.35,148.30 281.60,148.61 281.85,148.91 282.10,149.21 282.35,149.51 282.60,149.82 282.85,150.12 283.10,150.30 283.35,150.30 283.60,150.30 283.85,150.30 284.10,150.30 284.35,150.30 284.60,150.30 284.85,150.30 285.10,150.30 285.35,150.30 285.60,150.30 285.85,150.30 286.10,150.30 286.35,150.30 286.60,150.30 286.85,150.30 287.10,150.30 287.35,150.30 287.60,150.30 287.85,150.30 288.10,150.30 288.35,150.30 288.60,150.30 288.85,150.30 289.10,150.30 289.35,150.30 289.60,150.30 289.85,150.30 290.10,150.30 290.35,150.30 290.60,150.30 290.85,150.30 291.10,150.30 291.35,150.30 291.60,150.30 291.85,150.30 292.10,150.30 292.35,150.30 292.60,150.30 292.85,150.30 293.10,150.30 293.35,150.30 293.60,150.30 293.85,150.30 294.10,150.30 294.35,150.30 294.60,150.30 294.85,150.30 295.00,150.30"/>
<line x1="245.6" y1="94.4" x2="245.6" y2="151.20000000000002" stroke="#000" stroke-width="1.5"/>
<line x1="244.85" y1="150.3" x2="295.0" y2="150.3" stroke="#000" stroke-width="1.8"/>
<line x1="256.1" y1="150.3" x2="256.1" y2="153.20000000000002" stroke="#000" stroke-width="1"/>
<polygon points="301.10,150.30 301.10,150.26 301.35,150.23 301.60,150.20 301.85,150.17 302.10,150.15 302.35,150.12 302.60,150.09 302.85,150.06 303.10,150.04 303.35,150.01 303.60,149.98 303.85,149.95 304.10,149.93 304.35,149.90 304.60,149.87 304.85,149.85 305.10,149.82 305.35,149.79 305.60,149.76 305.85,149.74 306.10,149.71 306.35,149.68 306.60,149.65 306.85,149.63 307.10,149.60 307.35,149.57 307.60,149.54 307.85,149.52 308.10,149.46 308.35,149.35 308.60,149.24 308.85,149.14 309.10,149.03 309.35,148.92 309.60,148.81 309.85,148.71 310.10,148.60 310.35,148.35 310.60,147.22 310.85,146.29 311.10,145.77 311.35,145.61 311.60,145.60 311.85,145.72 312.10,146.15 312.35,147.01 312.60,147.72 312.85,147.66 313.10,147.60 313.35,147.54 313.60,147.40 313.85,147.15 314.10,146.90 314.35,146.65 314.60,146.40 314.85,146.15 315.10,144.15 315.35,142.29 315.60,141.14 315.85,140.67 316.10,140.60 316.35,140.67 316.60,141.14 316.85,142.29 317.10,144.15 317.35,144.40 317.60,144.29 317.85,144.00 318.10,142.98 318.35,141.97 318.60,140.95 318.85,139.93 319.10,138.92 319.35,137.90 319.60,136.08 319.85,130.76 320.10,126.74 320.35,124.47 320.60,123.68 320.85,123.60 321.10,123.86 321.35,125.17 321.60,128.14 321.85,132.79 322.10,136.64 322.35,136.54 322.60,136.44 322.85,136.31 323.10,136.16 323.35,136.00 323.60,135.85 323.85,134.69 324.10,128.21 324.35,123.03 324.60,119.92 324.85,118.68 325.10,118.50 325.35,118.68 325.60,119.92 325.85,123.03 326.10,128.21 326.35,134.69 326.60,136.12 326.85,136.30 327.10,136.31 327.35,136.08 327.60,135.85 327.85,135.62 328.10,135.38 328.35,126.88 328.60,117.97 328.85,110.31 329.10,104.96 329.35,102.08 329.60,101.10 329.85,101.00 330.10,101.32 330.35,102.96 330.60,106.79 330.85,113.14 331.10,121.47 331.35,130.44 331.60,135.85 331.85,136.08 332.10,136.31 332.35,136.44 332.60,136.50 332.85,136.57 333.10,136.63 333.35,134.10 333.60,129.80 333.85,127.05 334.10,125.84 334.35,125.60 334.60,125.67 334.85,126.41 335.10,128.50 335.35,132.23 335.60,137.14 335.85,139.84 336.10,140.37 336.35,140.89 336.60,141.25 336.85,141.56 337.10,141.88 337.35,142.19 337.60,142.50 337.85,142.81 338.10,143.13 338.35,142.95 338.60,142.90 338.85,142.95 339.10,143.31 339.35,144.19 339.60,145.07 339.85,145.40 340.10,145.72 340.35,146.05 340.60,146.38 340.85,146.70 341.10,146.90 341.35,146.92 341.60,146.93 341.85,146.94 342.10,146.95 342.35,146.96 342.60,146.45 342.85,145.84 343.10,145.62 343.35,145.60 343.60,145.67 343.85,146.03 344.10,146.81 344.35,147.53 344.60,147.65 344.85,147.78 345.10,147.90 345.35,148.03 345.60,148.15 345.85,148.28 346.10,148.40 346.35,148.52 346.60,148.65 346.85,148.77 347.10,148.89 347.35,149.01 347.60,149.13 347.85,149.25 348.10,149.38 348.35,149.50 348.60,149.62 348.85,149.74 349.10,149.86 349.35,149.98 349.60,150.11 349.85,150.23 350.10,150.30 350.35,150.30 350.40,150.30"/>
<line x1="301.1" y1="94.4" x2="301.1" y2="151.20000000000002" stroke="#000" stroke-width="1.5"/>
<line x1="300.35" y1="150.3" x2="350.4" y2="150.3" stroke="#000" stroke-width="1.8"/>
<line x1="308.8" y1="150.3" x2="308.8" y2="153.20000000000002" stroke="#000" stroke-width="1"/>
<polygon points="357.20,150.30 357.20,150.30 357.45,150.23 357.70,150.16 357.95,150.10 358.20,150.03 358.45,149.96 358.70,149.89 358.95,149.83 359.20,149.76 359.45,149.69 359.70,149.62 359.95,149.56 360.20,149.49 360.45,149.42 360.70,149.35 360.95,149.28 361.20,149.22 361.45,149.15 361.70,149.08 361.95,148.83 362.20,148.14 362.45,147.69 362.70,147.52 362.95,147.50 363.20,147.56 363.45,147.83 363.70,148.15 363.95,148.03 364.20,147.91 364.45,147.79 364.70,147.67 364.95,147.01 365.20,145.87 365.45,145.18 365.70,144.92 365.95,144.90 366.20,144.98 366.45,145.40 366.70,146.28 366.95,146.60 367.20,146.48 367.45,146.37 367.70,146.25 367.95,145.67 368.20,144.78 368.45,143.90 368.70,143.02 368.95,142.13 369.20,141.51 369.45,141.27 369.70,137.68 369.95,133.91 370.20,131.35 370.45,130.12 370.70,129.81 370.95,129.83 371.20,130.27 371.45,131.75 371.70,134.58 371.95,138.52 372.20,141.18 372.45,141.39 372.70,141.60 372.95,141.21 373.20,140.82 373.45,140.43 373.70,140.03 373.95,137.17 374.20,130.88 374.45,125.17 374.70,121.03 374.95,118.76 375.20,117.98 375.45,117.90 375.70,118.16 375.95,119.46 376.20,122.46 376.45,127.31 376.70,133.40 376.95,136.64 377.20,136.47 377.45,136.32 377.70,136.19 377.95,136.06 378.20,135.93 378.45,135.80 378.70,130.48 378.95,123.33 379.20,117.65 379.45,114.13 379.70,112.60 379.95,112.30 380.20,112.39 380.45,113.31 380.70,115.97 380.95,120.82 381.20,127.53 381.45,134.90 381.70,136.25 381.95,136.37 382.20,136.22 382.45,136.08 382.70,135.93 382.95,131.45 383.20,122.93 383.45,115.02 383.70,109.00 383.95,105.36 384.20,103.81 384.45,103.50 384.70,103.59 384.95,104.53 385.20,107.26 385.45,112.34 385.70,119.61 385.95,128.07 386.20,136.20 386.45,137.00 386.70,137.00 386.95,137.00 387.20,136.64 387.45,130.67 387.70,125.48 387.95,121.91 388.20,120.08 388.45,119.53 388.70,119.51 388.95,119.89 389.20,121.41 389.45,124.62 389.70,129.54 389.95,135.44 390.20,140.26 390.45,140.74 390.70,141.22 390.95,141.59 391.20,141.51 391.45,141.44 391.70,141.37 391.95,138.64 392.20,134.74 392.45,131.93 392.70,130.47 392.95,130.02 393.20,130.01 393.45,130.31 393.70,131.54 393.95,134.07 394.20,137.80 394.45,142.02 394.70,142.92 394.95,143.20 395.20,143.49 395.45,143.63 395.70,143.68 395.95,143.72 396.20,143.77 396.45,142.31 396.70,140.21 396.95,138.98 397.20,138.54 397.45,138.50 397.70,138.64 397.95,139.36 398.20,140.95 398.45,143.33 398.70,145.64 398.95,145.95 399.20,146.27 399.45,146.58 399.70,146.90 399.95,146.85 400.20,146.79 400.45,146.74 400.70,146.30 400.95,145.10 401.20,144.42 401.45,144.21 401.70,144.20 401.95,144.35 402.20,144.92 402.45,146.02 402.70,147.35 402.95,147.54 403.20,147.73 403.45,147.92 403.70,148.12 403.95,148.31 404.20,148.50 404.45,148.70 404.70,148.89 404.95,149.09 405.20,149.28 405.45,149.48 405.70,149.67 405.95,149.87 406.20,150.07 406.45,150.26 406.50,150.30"/>
<line x1="357.2" y1="94.4" x2="357.2" y2="151.20000000000002" stroke="#000" stroke-width="1.5"/>
<line x1="356.45" y1="150.3" x2="406.5" y2="150.3" stroke="#000" stroke-width="1.8"/>
<line x1="385.0" y1="150.3" x2="385.0" y2="153.20000000000002" stroke="#000" stroke-width="1"/>
<polygon points="413.90,150.30 413.90,150.30 414.15,150.27 414.40,150.22 414.65,150.17 414.90,150.12 415.15,150.07 415.40,150.02 415.65,149.97 415.90,149.92 416.15,149.87 416.40,149.82 416.65,149.77 416.90,149.72 417.15,149.67 417.40,149.62 417.65,149.57 417.90,149.52 418.15,149.45 418.40,149.37 418.65,149.28 418.90,149.20 419.15,148.46 419.40,147.83 419.65,147.54 419.90,147.50 420.15,147.54 420.40,147.83 420.65,148.46 420.90,148.53 421.15,148.34 421.40,148.08 421.65,147.82 421.90,147.56 422.15,147.30 422.40,147.04 422.65,146.78 422.90,146.51 423.15,146.25 423.40,145.02 423.65,143.55 423.90,139.20 424.15,131.01 424.40,121.77 424.65,113.38 424.90,107.30 425.15,103.97 425.40,102.81 425.65,102.70 425.90,103.08 426.15,104.99 426.40,109.40 426.65,116.52 426.90,125.47 427.15,134.51 427.40,140.30 427.65,140.30 427.90,140.33 428.15,140.41 428.40,140.49 428.65,140.57 428.90,136.88 429.15,132.87 429.40,130.15 429.65,128.84 429.90,128.51 430.15,128.53 430.40,129.00 430.65,130.58 430.90,133.59 431.15,137.78 431.40,141.76 431.65,141.89 431.90,142.03 432.15,142.16 432.40,142.30 432.65,142.27 432.90,142.23 433.15,141.84 433.40,137.00 433.65,132.20 433.90,128.39 434.15,126.03 434.40,125.00 434.65,124.80 434.90,124.86 435.15,125.48 435.40,127.26 435.65,130.52 435.90,135.02 436.15,139.97 436.40,142.57 436.65,142.65 436.90,142.73 437.15,142.82 437.40,142.90 437.65,142.91 437.90,142.92 438.15,142.93 438.40,141.40 438.65,136.73 438.90,132.31 439.15,128.94 439.40,126.98 439.65,126.21 439.90,126.10 440.15,126.21 440.40,126.98 440.65,128.94 440.90,132.31 441.15,136.73 441.40,141.40 441.65,143.45 441.90,143.52 442.15,143.59 442.40,143.64 442.65,143.68 442.90,143.73 443.15,141.42 443.40,137.73 443.65,134.78 443.90,133.01 444.15,132.30 444.40,132.20 444.65,132.30 444.90,133.01 445.15,134.78 445.40,137.73 445.65,141.42 445.90,144.56 446.15,144.66 446.40,144.75 446.65,144.84 446.90,144.90 447.15,144.91 447.40,144.92 447.65,144.93 447.90,144.94 448.15,144.95 448.40,143.77 448.65,141.80 448.90,140.57 449.15,140.07 449.40,140.00 449.65,140.07 449.90,140.57 450.15,141.80 450.40,143.77 450.65,145.97 450.90,146.17 451.15,146.36 451.40,146.56 451.65,146.75 451.90,146.94 452.15,147.11 452.40,147.14 452.65,147.18 452.90,147.21 453.15,147.24 453.40,147.28 453.65,147.31 453.90,147.35 454.15,147.38 454.40,147.42 454.65,147.45 454.90,147.49 455.15,147.50 455.40,147.50 455.65,147.50 455.90,147.50 456.15,147.50 456.40,147.50 456.65,147.50 456.90,147.50 457.15,147.50 457.40,147.50 457.65,147.50 457.90,147.50 458.15,146.62 458.40,145.93 458.65,145.64 458.90,145.60 459.15,145.64 459.40,145.93 459.65,146.62 459.90,147.67 460.15,148.25 460.40,148.41 460.65,148.57 460.90,148.74 461.15,148.90 461.40,149.06 461.65,149.23 461.90,149.39 462.15,149.55 462.40,149.71 462.65,149.88 462.80,150.30"/>
<line x1="413.9" y1="94.4" x2="413.9" y2="151.20000000000002" stroke="#000" stroke-width="1.5"/>
<line x1="413.15" y1="150.3" x2="462.8" y2="150.3" stroke="#000" stroke-width="1.8"/>
<line x1="441.2" y1="150.3" x2="441.2" y2="153.20000000000002" stroke="#000" stroke-width="1"/>
<polygon points="470.00,150.30 470.00,150.30 470.25,150.20 470.50,150.10 470.75,150.00 471.00,149.90 471.25,149.80 471.50,149.70 471.75,149.60 472.00,149.50 472.25,149.33 472.50,149.16 472.75,148.99 473.00,148.82 473.25,148.64 473.50,148.47 473.75,148.30 474.00,148.17 474.25,148.08 474.50,148.00 474.75,147.92 475.00,147.83 475.25,147.75 475.50,147.67 475.75,147.58 476.00,147.50 476.25,147.50 476.50,147.50 476.75,147.50 477.00,147.22 477.25,146.29 477.50,145.77 477.75,145.61 478.00,145.60 478.25,145.72 478.50,146.15 478.75,147.01 479.00,147.50 479.25,147.50 479.50,147.50 479.75,147.50 480.00,147.41 480.25,147.30 480.50,147.18 480.75,147.07 481.00,146.95 481.25,145.88 481.50,144.74 481.75,144.15 482.00,144.00 482.25,144.01 482.50,144.23 482.75,144.93 483.00,146.17 483.25,146.78 483.50,146.83 483.75,146.89 484.00,146.77 484.25,146.61 484.50,145.15 484.75,142.65 485.00,140.63 485.25,139.46 485.50,139.04 485.75,139.00 486.00,139.14 486.25,139.82 486.50,141.35 486.75,143.63 487.00,145.83 487.25,145.92 487.50,146.00 487.75,146.08 488.00,146.17 488.25,146.13 488.50,146.02 488.75,145.90 489.00,145.78 489.25,145.67 489.50,145.02 489.75,142.45 490.00,140.38 490.25,139.17 490.50,138.74 490.75,138.70 491.00,138.84 491.25,139.55 491.50,141.11 491.75,143.45 492.00,144.55 492.25,144.46 492.50,144.37 492.75,144.29 493.00,144.20 493.25,143.92 493.50,143.65 493.75,138.41 494.00,129.55 494.25,120.00 494.50,111.96 494.75,106.82 495.00,104.55 495.25,104.10 495.50,104.23 495.75,105.61 496.00,109.53 496.25,116.50 496.50,125.69 496.75,135.09 497.00,141.13 497.25,141.02 497.50,141.12 497.75,141.26 498.00,141.41 498.25,139.81 498.50,138.45 498.75,138.02 499.00,138.01 499.25,138.30 499.50,139.45 499.75,141.68 500.00,143.61 500.25,144.01 500.50,144.42 500.75,144.82 501.00,144.91 501.25,144.93 501.50,144.94 501.75,143.33 502.00,142.02 502.25,141.48 502.50,141.40 502.75,141.48 503.00,142.02 503.25,143.33 503.50,145.31 503.75,145.79 504.00,145.95 504.25,146.11 504.50,146.20 504.75,146.20 505.00,146.20 505.25,146.20 505.50,146.20 505.75,145.94 506.00,145.80 506.25,145.81 506.50,146.01 506.75,146.33 507.00,146.38 507.25,146.44 507.50,146.49 507.75,146.54 508.00,146.59 508.25,146.64 508.50,146.69 508.75,146.74 509.00,146.79 509.25,146.85 509.50,146.90 509.75,146.95 510.00,147.00 510.25,147.05 510.50,147.10 510.75,147.15 511.00,147.20 511.25,147.25 511.50,147.30 511.75,147.35 512.00,147.40 512.25,147.45 512.50,147.50 512.75,147.55 513.00,147.60 513.25,147.65 513.50,147.70 513.75,147.75 514.00,147.80 514.25,147.85 514.50,147.90 514.75,147.95 515.00,148.00 515.25,148.06 515.50,148.12 515.75,148.19 516.00,148.25 516.25,148.31 516.50,148.38 516.75,148.44 517.00,148.50 517.25,148.56 517.50,148.62 517.75,148.69 518.00,148.75 518.25,148.81 518.50,148.88 518.75,148.94 519.00,149.00 519.25,149.32 519.50,149.65 519.75,149.98 520.00,150.30 520.25,150.30 520.50,150.30 520.50,150.30"/>
<line x1="470.0" y1="94.4" x2="470.0" y2="151.20000000000002" stroke="#000" stroke-width="1.5"/>
<line x1="469.25" y1="150.3" x2="520.5" y2="150.3" stroke="#000" stroke-width="1.8"/>
<line x1="497.5" y1="150.3" x2="497.5" y2="153.20000000000002" stroke="#000" stroke-width="1"/>
<polygon points="20.30,231.90 20.30,231.80 20.55,231.73 20.80,231.66 21.05,231.59 21.30,231.52 21.55,231.45 21.80,231.39 22.05,231.32 22.30,231.25 22.55,231.18 22.80,231.11 23.05,231.04 23.30,230.97 23.55,230.90 23.80,230.83 24.05,230.76 24.30,230.69 24.55,230.62 24.80,230.56 25.05,230.46 25.30,230.28 25.55,230.09 25.80,229.90 26.05,229.71 26.30,229.24 26.55,228.74 26.80,228.60 27.05,228.61 27.30,228.80 27.55,229.14 27.80,229.20 28.05,229.26 28.30,229.32 28.55,229.39 28.80,229.45 29.05,229.43 29.30,229.05 29.55,228.68 29.80,228.30 30.05,227.75 30.30,226.50 30.55,225.25 30.80,224.00 31.05,222.97 31.30,221.93 31.55,214.82 31.80,208.86 32.05,205.66 32.30,204.82 32.55,204.87 32.80,206.07 33.05,209.85 33.30,216.23 33.55,221.47 33.80,221.32 34.05,221.17 34.30,221.02 34.55,220.82 34.80,220.43 35.05,220.04 35.30,219.65 35.55,219.26 35.80,218.48 36.05,208.11 36.30,198.54 36.55,192.53 36.80,190.32 37.05,190.10 37.30,190.84 37.55,194.43 37.80,202.05 38.05,212.37 38.30,215.96 38.55,215.76 38.80,215.56 39.05,215.39 39.30,215.33 39.55,215.28 39.80,215.22 40.05,205.49 40.30,194.87 40.55,188.20 40.80,185.74 41.05,185.50 41.30,186.32 41.55,190.31 41.80,198.76 42.05,210.23 42.30,214.66 42.55,214.60 42.80,214.55 43.05,214.49 43.30,214.46 43.55,214.43 43.80,210.92 44.05,201.21 44.30,194.60 44.55,191.81 44.80,191.40 45.05,191.81 45.30,194.60 45.55,201.21 45.80,210.92 46.05,214.09 46.30,214.05 46.55,214.02 46.80,214.02 47.05,214.09 47.30,214.15 47.55,214.21 47.80,207.13 48.05,198.51 48.30,193.55 48.55,191.99 48.80,191.93 49.05,193.01 49.30,197.20 49.55,205.19 49.80,214.76 50.05,214.82 50.30,214.88 50.55,214.94 50.80,215.00 51.05,215.06 51.30,215.12 51.55,215.19 51.80,215.25 52.05,213.05 52.30,206.48 52.55,202.95 52.80,202.02 53.05,202.08 53.30,203.40 53.55,207.57 53.80,214.61 54.05,215.81 54.30,215.88 54.55,215.94 54.80,216.00 55.05,216.09 55.30,216.19 55.55,216.28 55.80,214.73 56.05,207.74 56.30,203.59 56.55,202.28 56.80,202.22 57.05,203.14 57.30,206.65 57.55,213.18 57.80,218.50 58.05,219.75 58.30,221.00 58.55,222.30 58.80,223.80 59.05,225.30 59.30,226.80 59.55,228.03 59.80,228.16 60.05,228.29 60.30,228.42 60.55,228.55 60.80,228.68 61.05,228.81 61.30,228.94 61.55,229.07 61.80,229.20 62.05,229.28 62.30,229.16 62.55,229.04 62.80,228.91 63.05,228.79 63.30,228.67 63.55,228.55 63.80,228.43 64.05,227.04 64.30,225.90 64.55,225.52 64.80,225.51 65.05,225.77 65.30,226.74 65.55,228.44 65.80,228.72 66.05,228.88 66.30,229.04 66.55,229.21 66.80,229.37 67.05,229.54 67.30,229.73 67.55,229.92 67.80,230.11 68.05,230.31 68.30,230.50 68.55,230.69 68.80,230.88 69.05,231.07 69.30,231.26 69.55,231.46 69.80,231.65 70.00,231.90"/>
<line x1="20.3" y1="175.8" x2="20.3" y2="232.8" stroke="#000" stroke-width="1.5"/>
<line x1="19.55" y1="231.9" x2="70.0" y2="231.9" stroke="#000" stroke-width="1.8"/>
<line x1="43.6" y1="231.9" x2="43.6" y2="234.8" stroke="#000" stroke-width="1"/>
<polygon points="78.90,231.90 78.90,231.90 79.15,231.90 79.40,231.90 79.65,231.90 79.90,231.80 80.15,231.66 80.40,231.53 80.65,231.39 80.90,231.26 81.15,231.12 81.40,230.99 81.65,230.85 81.90,230.72 82.15,230.58 82.40,230.50 82.65,230.50 82.90,230.50 83.15,230.50 83.40,230.50 83.65,230.50 83.90,230.50 84.15,230.50 84.40,230.50 84.65,230.50 84.90,230.50 85.15,230.50 85.40,230.50 85.65,230.50 85.90,230.50 86.15,230.32 86.40,230.03 86.65,229.74 86.90,229.44 87.15,229.15 87.40,228.85 87.65,228.56 87.90,228.37 88.15,228.21 88.40,228.04 88.65,227.88 88.90,227.72 89.15,227.55 89.40,227.39 89.65,227.23 89.90,227.07 90.15,226.73 90.40,226.27 90.65,225.82 90.90,225.36 91.15,224.53 91.40,222.20 91.65,219.87 91.90,217.53 92.15,216.34 92.40,215.91 92.65,215.23 92.90,213.03 93.15,211.01 93.40,209.26 93.65,207.89 93.90,206.99 94.15,206.61 94.40,206.78 94.65,207.47 94.90,208.66 95.15,210.27 95.40,212.20 95.65,213.60 95.90,213.56 96.15,213.51 96.40,213.32 96.65,213.10 96.90,212.88 97.15,212.65 97.40,211.26 97.65,207.89 97.90,204.40 98.15,200.91 98.40,197.53 98.65,194.38 98.90,191.58 99.15,189.27 99.40,187.54 99.65,186.46 99.90,186.10 100.15,186.46 100.40,187.54 100.65,189.27 100.90,191.58 101.15,194.38 101.40,197.53 101.65,200.91 101.90,204.40 102.15,207.89 102.40,207.86 102.65,207.63 102.90,207.40 103.15,207.49 103.40,204.40 103.65,200.91 103.90,197.53 104.15,194.38 104.40,191.58 104.65,189.27 104.90,187.54 105.15,186.46 105.40,186.10 105.65,186.46 105.90,187.54 106.15,189.27 106.40,191.58 106.65,194.38 106.90,197.53 107.15,200.91 107.40,204.40 107.65,207.89 107.90,209.74 108.15,209.82 108.40,209.91 108.65,210.00 108.90,210.09 109.15,210.17 109.40,210.26 109.65,210.35 109.90,210.04 110.15,207.37 110.40,204.86 110.65,202.59 110.90,200.67 111.15,199.19 111.40,198.22 111.65,197.81 111.90,197.99 112.15,198.73 112.40,200.02 112.65,201.77 112.90,203.91 113.15,206.34 113.40,208.96 113.65,211.66 113.90,214.34 114.15,215.02 114.40,215.40 114.65,215.46 114.90,215.52 115.15,215.57 115.40,215.63 115.65,215.69 115.90,215.75 116.15,214.53 116.40,212.94 116.65,211.69 116.90,210.86 117.15,210.51 117.40,210.66 117.65,211.30 117.90,212.39 118.15,213.86 118.40,215.60 118.65,217.52 118.90,219.51 119.15,221.47 119.40,223.33 119.65,224.56 119.90,224.86 120.15,225.15 120.40,225.45 120.65,225.75 120.90,226.05 121.15,226.35 121.40,226.64 121.65,226.94 121.90,227.04 122.15,227.08 122.40,227.13 122.65,227.18 122.90,227.22 123.15,227.27 123.40,227.31 123.65,227.36 123.90,227.41 124.15,227.45 124.40,227.50 124.65,227.68 124.90,227.86 125.15,228.04 125.40,228.21 125.65,228.39 125.90,228.57 126.15,228.75 126.40,228.93 126.65,229.11 126.90,229.29 127.15,229.46 127.40,229.76 127.65,230.08 127.90,230.39 128.15,230.71 128.40,231.03 128.50,231.90"/>
<line x1="78.9" y1="175.8" x2="78.9" y2="232.8" stroke="#000" stroke-width="1.5"/>
<line x1="78.15" y1="231.9" x2="128.5" y2="231.9" stroke="#000" stroke-width="1.8"/>
<line x1="103.8" y1="231.9" x2="103.8" y2="234.8" stroke="#000" stroke-width="1"/>
<polygon points="134.10,231.90 134.10,231.77 134.35,231.71 134.60,231.64 134.85,231.57 135.10,231.51 135.35,231.44 135.60,231.37 135.85,231.31 136.10,231.24 136.35,231.17 136.60,231.11 136.85,231.04 137.10,230.98 137.35,230.95 137.60,230.91 137.85,230.87 138.10,230.83 138.35,230.79 138.60,230.75 138.85,230.72 139.10,230.68 139.35,230.64 139.60,230.60 139.85,230.52 140.10,230.44 140.35,230.36 140.60,230.28 140.85,230.20 141.10,230.12 141.35,230.05 141.60,229.97 141.85,229.89 142.10,229.81 142.35,229.73 142.60,229.65 142.85,229.57 143.10,229.49 143.35,229.41 143.60,229.33 143.85,229.25 144.10,229.16 144.35,229.07 144.60,228.99 144.85,228.90 145.10,228.81 145.35,228.73 145.60,228.64 145.85,228.55 146.10,227.04 146.35,225.17 146.60,223.83 146.85,223.17 147.10,223.00 147.35,223.01 147.60,223.26 147.85,224.05 148.10,225.51 148.35,227.45 148.60,227.98 148.85,227.93 149.10,227.77 149.35,227.46 149.60,227.14 149.85,226.82 150.10,223.86 150.35,220.16 150.60,217.05 150.85,215.05 151.10,214.18 151.35,214.00 151.60,214.05 151.85,214.58 152.10,216.10 152.35,218.80 152.60,222.36 152.85,224.70 153.10,224.57 153.35,224.43 153.60,224.10 153.85,223.73 154.10,223.35 154.35,222.98 154.60,222.60 154.85,219.27 155.10,210.70 155.35,201.44 155.60,193.39 155.85,187.84 156.10,185.00 156.35,184.15 156.60,184.11 156.85,184.70 157.10,187.06 157.35,192.05 157.60,199.68 157.85,208.84 158.10,217.70 158.35,219.74 158.60,219.57 158.85,219.62 159.10,219.83 159.35,213.47 159.60,206.15 159.85,200.06 160.10,196.07 160.35,194.18 160.60,193.71 160.85,193.74 161.10,194.42 161.35,196.69 161.60,201.12 161.85,207.56 162.10,214.96 162.35,221.81 162.60,223.36 162.85,223.64 163.10,223.73 163.35,223.77 163.60,221.83 163.85,218.07 164.10,215.22 164.35,213.62 164.60,213.06 164.85,213.00 165.10,213.19 165.35,214.11 165.60,216.22 165.85,219.51 166.10,223.41 166.35,225.76 166.60,226.05 166.85,226.33 167.10,226.53 167.35,226.59 167.60,226.65 167.85,226.45 168.10,224.08 168.35,222.28 168.60,221.31 168.85,221.02 169.10,221.00 169.35,221.21 169.60,222.02 169.85,223.66 170.10,225.95 170.35,227.55 170.60,227.65 170.85,227.76 171.10,227.86 171.35,227.91 171.60,227.92 171.85,227.93 172.10,227.94 172.35,227.95 172.60,226.25 172.85,224.55 173.10,223.49 173.35,223.06 173.60,223.00 173.85,223.06 174.10,223.49 174.35,224.55 174.60,226.25 174.85,228.24 175.10,228.93 175.35,229.08 175.60,229.24 175.85,229.34 176.10,229.41 176.35,229.48 176.60,229.55 176.85,229.62 177.10,229.69 177.35,229.76 177.60,229.83 177.85,229.90 178.10,229.97 178.35,230.04 178.60,230.11 178.85,230.18 179.10,230.25 179.35,230.32 179.60,230.39 179.85,230.46 180.10,230.54 180.35,230.65 180.60,230.76 180.85,230.87 181.10,230.98 181.35,231.09 181.60,231.19 181.85,231.30 182.10,231.41 182.35,231.52 182.60,231.63 182.85,231.74 183.10,231.90 183.35,231.90 183.50,231.90"/>
<line x1="134.1" y1="175.8" x2="134.1" y2="232.8" stroke="#000" stroke-width="1.5"/>
<line x1="133.35" y1="231.9" x2="183.5" y2="231.9" stroke="#000" stroke-width="1.8"/>
<line x1="178.2" y1="231.9" x2="178.2" y2="234.8" stroke="#000" stroke-width="1"/>
<polygon points="189.70,231.90 189.70,231.76 189.95,231.67 190.20,231.57 190.45,231.48 190.70,231.38 190.95,231.28 191.20,231.19 191.45,231.09 191.70,231.00 191.95,230.90 192.20,230.81 192.45,230.71 192.70,230.61 192.95,230.52 193.20,230.38 193.45,230.19 193.70,229.61 193.95,229.34 194.20,229.30 194.45,229.34 194.70,229.21 194.95,228.92 195.20,228.62 195.45,228.33 195.70,228.04 195.95,227.74 196.20,227.45 196.45,227.15 196.70,226.86 196.95,226.56 197.20,226.27 197.45,225.98 197.70,225.60 197.95,223.69 198.20,220.89 198.45,219.01 198.70,218.17 198.95,218.00 199.20,218.05 199.45,218.56 199.70,220.01 199.95,222.49 200.20,222.60 200.45,222.52 200.70,222.43 200.95,222.35 201.20,222.13 201.45,221.69 201.70,221.26 201.95,220.82 202.20,220.39 202.45,219.96 202.70,213.39 202.95,206.71 203.20,201.40 203.45,198.11 203.70,196.68 203.95,196.40 204.20,196.48 204.45,197.35 204.70,199.83 204.95,204.36 205.20,210.62 205.45,217.08 205.70,216.88 205.95,216.69 206.20,216.49 206.45,216.30 206.70,216.10 206.95,215.95 207.20,215.80 207.45,215.66 207.70,215.51 207.95,209.48 208.20,200.95 208.45,193.61 208.70,188.49 208.95,185.74 209.20,184.79 209.45,184.70 209.70,185.01 209.95,186.58 210.20,190.25 210.45,196.32 210.70,204.29 210.95,212.88 211.20,214.14 211.45,214.09 211.70,214.04 211.95,214.02 212.20,214.12 212.45,214.23 212.70,214.33 212.95,212.56 213.20,205.21 213.45,198.89 213.70,194.47 213.95,192.10 214.20,191.28 214.45,191.20 214.70,191.47 214.95,192.82 215.20,195.98 215.45,201.22 215.70,208.10 215.95,215.50 216.20,216.90 216.45,217.15 216.70,217.40 216.95,217.56 217.20,217.72 217.45,217.88 217.70,218.04 217.95,218.20 218.20,215.99 218.45,212.26 218.70,210.02 218.95,209.13 219.20,209.00 219.45,209.13 219.70,210.02 219.95,212.26 220.20,215.99 220.45,220.66 220.70,221.82 220.95,222.29 221.20,222.76 221.45,223.23 221.70,223.70 221.95,223.73 222.20,223.77 222.45,223.80 222.70,223.83 222.95,223.86 223.20,222.08 223.45,220.40 223.70,219.65 223.95,219.50 224.20,219.55 224.45,220.00 224.70,221.29 224.95,223.51 225.20,225.25 225.45,225.51 225.70,225.77 225.95,226.03 226.20,226.29 226.45,226.50 226.70,226.50 226.95,226.50 227.20,226.50 227.45,226.50 227.70,226.50 227.95,226.50 228.20,226.50 228.45,226.50 228.70,226.50 228.95,226.50 229.20,225.98 229.45,225.81 229.70,225.80 229.95,225.92 230.20,226.37 230.45,227.00 230.70,227.15 230.95,227.29 231.20,227.44 231.45,227.59 231.70,227.74 231.95,227.88 232.20,228.03 232.45,228.18 232.70,228.32 232.95,228.47 233.20,228.56 233.45,228.63 233.70,228.70 233.95,228.77 234.20,228.84 234.45,228.91 234.70,228.99 234.95,229.06 235.20,229.13 235.45,229.20 235.70,229.27 235.95,229.38 236.20,229.52 236.45,229.65 236.70,229.79 236.95,229.93 237.20,230.06 237.45,230.20 237.70,230.34 237.95,230.47 238.20,230.60 238.45,230.73 238.70,230.86 238.95,230.99 239.00,231.90"/>
<line x1="189.7" y1="175.8" x2="189.7" y2="232.8" stroke="#000" stroke-width="1.5"/>
<line x1="188.95" y1="231.9" x2="239.0" y2="231.9" stroke="#000" stroke-width="1.8"/>
<line x1="231.0" y1="231.9" x2="231.0" y2="234.8" stroke="#000" stroke-width="1"/>
<polygon points="244.80,231.90 244.80,231.35 245.05,231.07 245.30,230.79 245.55,230.51 245.80,230.22 246.05,229.74 246.30,228.99 246.55,228.65 246.80,228.60 247.05,228.65 247.30,228.99 247.55,229.74 247.80,230.45 248.05,230.50 248.30,230.50 248.55,230.50 248.80,230.50 249.05,230.50 249.30,230.50 249.55,230.50 249.80,230.50 250.05,230.50 250.30,230.50 250.55,230.50 250.80,230.50 251.05,230.50 251.30,230.50 251.55,230.50 251.80,230.50 252.05,230.50 252.30,230.50 252.55,230.50 252.80,230.50 253.05,230.50 253.30,230.50 253.55,230.50 253.80,230.50 254.05,230.35 254.30,229.60 254.55,228.85 254.80,228.10 255.05,227.35 255.30,226.60 255.55,225.85 255.80,225.10 256.05,224.35 256.30,223.60 256.55,222.97 256.80,222.83 257.05,219.94 257.30,215.18 257.55,211.23 257.80,208.64 258.05,207.41 258.30,207.11 258.55,207.12 258.80,207.57 259.05,209.04 259.30,211.92 259.55,216.10 259.80,220.90 260.05,221.74 260.30,221.70 260.55,221.67 260.80,221.63 261.05,221.59 261.30,221.54 261.55,221.49 261.80,221.44 262.05,221.39 262.30,221.34 262.55,221.29 262.80,216.05 263.05,210.33 263.30,205.78 263.55,202.96 263.80,201.74 264.05,201.50 264.30,201.57 264.55,202.31 264.80,204.44 265.05,208.32 265.30,213.68 265.55,219.58 265.80,220.94 266.05,220.93 266.30,220.92 266.55,220.91 266.80,220.90 267.05,220.85 267.30,220.77 267.55,220.69 267.80,220.61 268.05,216.40 268.30,208.15 268.55,199.89 268.80,193.07 269.05,188.51 269.30,186.22 269.55,185.54 269.80,185.51 270.05,185.98 270.30,187.88 270.55,191.96 270.80,198.37 271.05,206.45 271.30,214.83 271.55,219.67 271.80,219.62 272.05,219.58 272.30,219.54 272.55,219.50 272.80,219.50 273.05,219.50 273.30,214.79 273.55,207.69 273.80,201.35 274.05,196.72 274.30,194.07 274.55,193.05 274.80,192.90 275.05,193.05 275.30,194.07 275.55,196.72 275.80,201.35 276.05,207.69 276.30,214.79 276.55,219.50 276.80,219.50 277.05,219.50 277.30,219.50 277.55,219.64 277.80,219.78 278.05,219.92 278.30,220.06 278.55,220.19 278.80,215.89 279.05,210.11 279.30,205.52 279.55,202.68 279.80,201.44 280.05,201.20 280.30,201.27 280.55,202.02 280.80,204.17 281.05,208.09 281.30,213.50 281.55,219.46 281.80,223.11 282.05,223.40 282.30,223.70 282.55,223.99 282.80,224.28 283.05,224.44 283.30,224.50 283.55,224.56 283.80,224.62 284.05,224.68 284.30,222.97 284.55,220.31 284.80,218.50 285.05,217.62 285.30,217.41 285.55,217.42 285.80,217.73 286.05,218.78 286.30,220.78 286.55,223.57 286.80,226.10 287.05,226.30 287.30,226.49 287.55,226.69 287.80,226.89 288.05,227.08 288.30,227.19 288.55,227.18 288.80,227.16 289.05,227.14 289.30,227.13 289.55,227.11 289.80,227.09 290.05,227.08 290.30,227.02 290.55,225.90 290.80,225.30 291.05,225.11 291.30,225.10 291.55,225.23 291.80,225.74 292.05,226.76 292.30,228.19 292.55,229.59 292.80,230.07 293.05,230.55 293.30,231.03 293.55,231.51 293.80,231.90 294.05,231.90 294.20,231.90"/>
<line x1="244.8" y1="175.8" x2="244.8" y2="232.8" stroke="#000" stroke-width="1.5"/>
<line x1="244.05" y1="231.9" x2="294.2" y2="231.9" stroke="#000" stroke-width="1.8"/>
<line x1="254.0" y1="231.9" x2="254.0" y2="234.8" stroke="#000" stroke-width="1"/>
<polygon points="300.20,231.90 300.20,231.72 300.45,231.62 300.70,231.52 300.95,231.42 301.20,231.32 301.45,231.22 301.70,231.12 301.95,231.02 302.20,230.88 302.45,230.73 302.70,230.59 302.95,230.44 303.20,230.29 303.45,230.14 303.70,230.00 303.95,229.85 304.20,229.70 304.45,229.39 304.70,229.07 304.95,228.76 305.20,228.45 305.45,228.14 305.70,227.82 305.95,227.51 306.20,227.20 306.45,225.93 306.70,224.44 306.95,223.80 307.20,223.70 307.45,223.80 307.70,224.44 307.95,225.93 308.20,226.20 308.45,226.08 308.70,225.95 308.95,225.83 309.20,225.43 309.45,224.96 309.70,223.66 309.95,220.48 310.20,218.21 310.45,217.09 310.70,216.81 310.95,216.82 311.20,217.23 311.45,218.57 311.70,221.06 311.95,221.99 312.20,221.81 312.45,221.63 312.70,218.74 312.95,210.53 313.20,202.04 313.45,194.97 313.70,190.35 313.95,188.16 314.20,187.61 314.45,187.64 314.70,188.43 314.95,191.06 315.20,196.21 315.45,203.67 315.70,212.25 315.95,213.38 316.20,213.54 316.45,213.85 316.70,212.40 316.95,210.03 317.20,209.18 317.45,209.10 317.70,209.38 317.95,210.76 318.20,213.84 318.45,218.03 318.70,218.76 318.95,219.48 319.20,220.20 319.45,220.01 319.70,219.82 319.95,218.37 320.20,215.68 320.45,214.35 320.70,214.01 320.95,214.03 321.20,214.51 321.45,216.10 321.70,219.05 321.95,220.56 322.20,220.90 322.45,220.91 322.70,220.93 322.95,220.94 323.20,220.01 323.45,218.14 323.70,217.47 323.95,217.40 324.20,217.62 324.45,218.73 324.70,221.12 324.95,222.87 325.20,223.31 325.45,223.76 325.70,224.20 325.95,224.41 326.20,224.61 326.45,224.82 326.70,225.02 326.95,225.23 327.20,225.43 327.45,225.64 327.70,225.84 327.95,226.05 328.20,226.25 328.45,226.46 328.70,226.44 328.95,226.37 329.20,226.30 329.45,226.23 329.70,226.16 329.95,226.09 330.20,226.02 330.45,225.95 330.70,225.88 330.95,225.81 331.20,225.75 331.45,225.68 331.70,225.62 331.95,225.55 332.20,225.49 332.45,225.42 332.70,225.36 332.95,225.29 333.20,225.23 333.45,225.21 333.70,225.23 333.95,225.25 334.20,225.26 334.45,225.28 334.70,225.30 334.95,225.32 335.20,225.34 335.45,225.35 335.70,225.37 335.95,225.39 336.20,225.45 336.45,225.56 336.70,225.67 336.95,225.78 337.20,225.90 337.45,226.01 337.70,226.12 337.95,226.24 338.20,226.35 338.45,226.46 338.70,226.58 338.95,226.69 339.20,226.80 339.45,226.92 339.70,227.03 339.95,227.14 340.20,227.25 340.45,227.36 340.70,227.47 340.95,227.57 341.20,227.67 341.45,227.78 341.70,227.88 341.95,227.98 342.20,228.09 342.45,228.19 342.70,228.30 342.95,228.40 343.20,228.50 343.45,228.61 343.70,228.71 343.95,228.81 344.20,228.92 344.45,229.02 344.70,229.11 344.95,229.20 345.20,229.30 345.45,229.39 345.70,229.48 345.95,229.58 346.20,229.67 346.45,229.76 346.70,229.85 346.95,229.95 347.20,230.04 347.45,230.13 347.70,230.23 347.95,230.37 348.20,230.71 348.45,231.05 348.70,231.39 348.95,231.73 349.20,231.90 349.45,231.90 349.60,231.90"/>
<line x1="300.2" y1="175.8" x2="300.2" y2="232.8" stroke="#000" stroke-width="1.5"/>
<line x1="299.45" y1="231.9" x2="349.6" y2="231.9" stroke="#000" stroke-width="1.8"/>
<line x1="330.4" y1="231.9" x2="330.4" y2="234.8" stroke="#000" stroke-width="1"/>
<polygon points="356.20,231.90 356.20,231.66 356.45,231.62 356.70,231.57 356.95,231.53 357.20,231.49 357.45,231.44 357.70,231.40 357.95,231.36 358.20,231.31 358.45,231.27 358.70,231.23 358.95,231.18 359.20,231.14 359.45,231.10 359.70,231.05 359.95,231.01 360.20,230.89 360.45,230.75 360.70,230.60 360.95,230.46 361.20,230.32 361.45,230.18 361.70,230.04 361.95,229.90 362.20,229.75 362.45,229.61 362.70,229.47 362.95,229.33 363.20,229.09 363.45,228.83 363.70,228.57 363.95,228.30 364.20,228.04 364.45,227.78 364.70,227.52 364.95,227.25 365.20,227.10 365.45,226.97 365.70,226.85 365.95,226.72 366.20,225.02 366.45,221.68 366.70,218.98 366.95,217.41 367.20,216.85 367.45,216.80 367.70,216.98 367.95,217.90 368.20,219.94 368.45,222.98 368.70,223.33 368.95,222.81 369.20,222.30 369.45,220.19 369.70,218.09 369.95,215.98 370.20,213.87 370.45,211.76 370.70,210.18 370.95,209.33 371.20,204.58 371.45,201.63 371.70,200.35 371.95,200.10 372.20,200.18 372.45,200.95 372.70,203.17 372.95,205.73 373.20,205.66 373.45,205.57 373.70,205.42 373.95,205.26 374.20,205.11 374.45,200.72 374.70,194.07 374.95,189.63 375.20,187.40 375.45,186.74 375.70,186.71 375.95,187.17 376.20,189.02 376.45,192.99 376.70,199.24 376.95,203.87 377.20,203.84 377.45,203.81 377.70,199.11 377.95,194.38 378.20,191.96 378.45,191.24 378.70,191.21 378.95,191.71 379.20,193.72 379.45,197.97 379.70,203.60 379.95,203.60 380.20,203.60 380.45,203.60 380.70,203.60 380.95,203.60 381.20,197.80 381.45,191.27 381.70,187.12 381.95,185.19 382.20,184.71 382.45,184.74 382.70,185.43 382.95,187.76 383.20,192.40 383.45,199.34 383.70,204.79 383.95,204.97 384.20,205.57 384.45,206.27 384.70,206.98 384.95,207.52 385.20,206.25 385.45,206.00 385.70,206.08 385.95,206.85 386.20,209.04 386.45,212.77 386.70,213.80 386.95,215.05 387.20,216.30 387.45,217.55 387.70,218.80 387.95,219.02 388.20,219.24 388.45,219.46 388.70,219.67 388.95,219.89 389.20,220.11 389.45,220.22 389.70,220.24 389.95,220.27 390.20,220.30 390.45,220.32 390.70,220.35 390.95,220.38 391.20,220.40 391.45,220.43 391.70,220.34 391.95,220.02 392.20,220.01 392.45,220.23 392.70,221.11 392.95,222.65 393.20,223.28 393.45,223.91 393.70,224.54 393.95,225.17 394.20,225.80 394.45,225.95 394.70,226.10 394.95,226.25 395.20,226.40 395.45,226.55 395.70,226.70 395.95,226.85 396.20,227.00 396.45,227.15 396.70,227.30 396.95,227.45 397.20,227.60 397.45,227.75 397.70,227.90 397.95,227.95 398.20,228.01 398.45,228.06 398.70,228.12 398.95,228.17 399.20,228.23 399.45,228.28 399.70,228.34 399.95,228.39 400.20,228.45 400.45,228.50 400.70,228.56 400.95,228.61 401.20,228.67 401.45,228.72 401.70,228.78 401.95,228.85 402.20,228.93 402.45,229.01 402.70,229.09 402.95,229.17 403.20,229.25 403.45,229.32 403.70,229.40 403.95,229.48 404.20,229.70 404.45,229.95 404.70,230.20 404.95,230.45 405.20,230.70 405.45,230.95 405.70,231.20 405.80,231.90"/>
<line x1="356.2" y1="175.8" x2="356.2" y2="232.8" stroke="#000" stroke-width="1.5"/>
<line x1="355.45" y1="231.9" x2="405.8" y2="231.9" stroke="#000" stroke-width="1.8"/>
<line x1="365.7" y1="231.9" x2="365.7" y2="234.8" stroke="#000" stroke-width="1"/>
<polygon points="411.70,231.90 411.70,231.80 411.95,231.61 412.20,231.42 412.45,231.23 412.70,231.04 412.95,230.84 413.20,230.65 413.45,230.45 413.70,230.22 413.95,229.99 414.20,229.76 414.45,229.53 414.70,229.29 414.95,229.06 415.20,228.83 415.45,228.60 415.70,228.36 415.95,228.13 416.20,227.90 416.45,227.64 416.70,227.38 416.95,227.12 417.20,226.86 417.45,226.60 417.70,226.34 417.95,226.09 418.20,225.83 418.45,225.57 418.70,225.31 418.95,225.04 419.20,224.73 419.45,224.42 419.70,224.11 419.95,223.11 420.20,221.97 420.45,221.62 420.70,221.61 420.95,221.85 421.20,222.77 421.45,222.67 421.70,222.57 421.95,222.48 422.20,222.38 422.45,222.17 422.70,221.49 422.95,220.82 423.20,220.15 423.45,212.65 423.70,202.84 423.95,194.17 424.20,188.27 424.45,185.43 424.70,184.72 424.95,184.76 425.20,185.79 425.45,189.20 425.70,195.71 425.95,204.78 426.20,214.54 426.45,214.89 426.70,214.66 426.95,214.56 427.20,214.47 427.45,210.51 427.70,204.87 427.95,201.58 428.20,200.41 428.45,200.30 428.70,200.69 428.95,202.60 429.20,206.87 429.45,213.24 429.70,215.61 429.95,215.91 430.20,216.09 430.45,216.08 430.70,216.07 430.95,216.06 431.20,212.17 431.45,207.63 431.70,205.19 431.95,204.44 432.20,204.41 432.45,204.93 432.70,206.98 432.95,211.11 433.20,216.90 433.45,220.15 433.70,220.87 433.95,221.58 434.20,222.30 434.45,222.26 434.70,222.22 434.95,222.18 435.20,221.57 435.45,219.95 435.70,219.36 435.95,219.30 436.20,219.50 436.45,220.46 436.70,222.53 436.95,224.12 437.20,224.68 437.45,225.24 437.70,225.80 437.95,225.70 438.20,225.61 438.45,225.51 438.70,225.42 438.95,225.32 439.20,225.23 439.45,225.13 439.70,225.04 439.95,224.94 440.20,224.83 440.45,224.72 440.70,224.61 440.95,224.51 441.20,224.40 441.45,224.29 441.70,224.19 441.95,224.08 442.20,223.97 442.45,223.28 442.70,221.57 442.95,220.72 443.20,220.51 443.45,220.52 443.70,220.83 443.95,221.84 444.20,223.72 444.45,224.56 444.70,224.80 444.95,225.03 445.20,225.26 445.45,225.49 445.70,225.72 445.95,225.95 446.20,226.00 446.45,226.00 446.70,226.00 446.95,226.00 447.20,226.00 447.45,226.00 447.70,226.00 447.95,226.00 448.20,226.00 448.45,226.00 448.70,226.00 448.95,226.00 449.20,226.00 449.45,226.00 449.70,226.00 449.95,226.00 450.20,226.00 450.45,226.04 450.70,226.08 450.95,226.12 451.20,226.16 451.45,226.20 451.70,226.24 451.95,226.29 452.20,226.33 452.45,226.37 452.70,226.41 452.95,226.45 453.20,226.49 453.45,226.53 453.70,226.57 453.95,226.61 454.20,226.65 454.45,226.69 454.70,226.73 454.95,226.78 455.20,226.76 455.45,226.64 455.70,226.53 455.95,226.42 456.20,226.31 456.45,226.19 456.70,226.08 456.95,225.97 457.20,225.86 457.45,224.09 457.70,222.75 457.95,222.32 458.20,222.31 458.45,222.60 458.70,223.74 458.95,225.85 459.20,227.08 459.45,227.41 459.70,227.74 459.95,228.24 460.20,229.43 460.45,230.61 460.70,231.80 460.95,231.90 461.20,231.90 461.20,231.90"/>
<line x1="411.7" y1="175.8" x2="411.7" y2="232.8" stroke="#000" stroke-width="1.5"/>
<line x1="410.95" y1="231.9" x2="461.2" y2="231.9" stroke="#000" stroke-width="1.8"/>
<line x1="437.0" y1="231.9" x2="437.0" y2="234.8" stroke="#000" stroke-width="1"/>
<polygon points="467.50,231.90 467.50,231.76 467.75,231.74 468.00,231.72 468.25,231.70 468.50,231.68 468.75,231.65 469.00,231.63 469.25,231.61 469.50,231.59 469.75,231.57 470.00,231.55 470.25,231.53 470.50,231.51 470.75,231.49 471.00,231.47 471.25,231.45 471.50,231.43 471.75,231.40 472.00,231.38 472.25,231.36 472.50,231.34 472.75,231.32 473.00,231.30 473.25,231.05 473.50,230.80 473.75,230.55 474.00,230.30 474.25,230.05 474.50,229.80 474.75,229.55 475.00,229.30 475.25,229.05 475.50,228.80 475.75,228.49 476.00,227.95 476.25,227.41 476.50,226.87 476.75,226.33 477.00,225.79 477.25,225.26 477.50,224.72 477.75,224.43 478.00,224.31 478.25,224.19 478.50,224.07 478.75,223.96 479.00,223.84 479.25,223.72 479.50,223.60 479.75,223.54 480.00,223.48 480.25,223.43 480.50,223.37 480.75,223.31 481.00,223.25 481.25,223.20 481.50,223.14 481.75,223.08 482.00,223.02 482.25,222.38 482.50,221.33 482.75,220.29 483.00,219.25 483.25,218.21 483.50,216.80 483.75,215.30 484.00,213.80 484.25,212.30 484.50,210.84 484.75,209.39 485.00,207.94 485.25,206.49 485.50,205.89 485.75,205.50 486.00,205.11 486.25,202.02 486.50,200.55 486.75,200.40 487.00,200.89 487.25,203.16 487.50,202.77 487.75,202.38 488.00,202.71 488.25,203.23 488.50,203.75 488.75,204.27 489.00,204.79 489.25,205.06 489.50,204.33 489.75,203.61 490.00,202.89 490.25,202.17 490.50,201.44 490.75,200.72 491.00,193.92 491.25,189.30 491.50,187.66 491.75,187.50 492.00,188.04 492.25,190.74 492.50,196.73 492.75,198.69 493.00,198.50 493.25,198.25 493.50,198.00 493.75,197.75 494.00,194.80 494.25,193.76 494.50,193.72 494.75,194.44 495.00,197.28 495.25,203.02 495.50,205.83 495.75,207.70 496.00,208.22 496.25,208.73 496.50,209.24 496.75,209.75 497.00,210.27 497.25,210.78 497.50,211.29 497.75,211.77 498.00,212.14 498.25,212.51 498.50,212.88 498.75,213.25 499.00,213.62 499.25,213.99 499.50,214.36 499.75,214.73 500.00,215.32 500.25,215.97 500.50,216.62 500.75,217.27 501.00,217.92 501.25,218.57 501.50,219.22 501.75,219.87 502.00,220.48 502.25,221.07 502.50,221.67 502.75,222.26 503.00,222.86 503.25,223.45 503.50,224.05 503.75,224.64 504.00,225.05 504.25,225.17 504.50,225.29 504.75,225.41 505.00,225.53 505.25,225.65 505.50,225.77 505.75,225.90 506.00,226.02 506.25,226.14 506.50,226.26 506.75,226.38 507.00,226.50 507.25,226.59 507.50,226.69 507.75,226.78 508.00,226.88 508.25,226.97 508.50,227.06 508.75,227.16 509.00,227.25 509.25,227.34 509.50,227.44 509.75,227.53 510.00,227.62 510.25,227.72 510.50,227.81 510.75,227.91 511.00,228.00 511.25,228.12 511.50,228.25 511.75,228.38 512.00,228.50 512.25,228.62 512.50,228.75 512.75,228.88 513.00,229.00 513.25,229.12 513.50,229.25 513.75,229.38 514.00,229.50 514.25,229.62 514.50,229.75 514.75,229.88 515.00,230.00 515.25,230.45 515.50,230.90 515.75,231.35 516.00,231.80 516.25,231.90 516.50,231.90 516.60,231.90"/>
<line x1="467.5" y1="175.8" x2="467.5" y2="232.8" stroke="#000" stroke-width="1.5"/>
<line x1="466.75" y1="231.9" x2="516.6" y2="231.9" stroke="#000" stroke-width="1.8"/>
<line x1="508.2" y1="231.9" x2="508.2" y2="234.8" stroke="#000" stroke-width="1"/>
</g>
<text transform="translate(60.4,11.8) scale(0.93,1.06)" style="font-size:14.5px;stroke:#000;stroke-width:0.4px">A</text>
<text x="214.3" y="258.6" style="font-size:11px">CDR3 Size</text>
<text transform="translate(9.4,226.6) rotate(-90)" style="font-size:11.6px;font-weight:normal;letter-spacing:0.68px;stroke:#000;stroke-width:0.45px">Fluorescence Intensity</text>
<text x="88.50" y="21.64" class="lb">Vβ<tspan dx="0.8">1</tspan></text>
<text x="114.6" y="83.82" class="tk" text-anchor="middle">360</text>
<text x="144.70" y="20.24" class="lb">Vβ<tspan dx="0.0">2</tspan></text>
<text x="172.0" y="83.82" class="tk" text-anchor="middle">360</text>
<text x="199.20" y="20.34" class="lb">Vβ<tspan dx="0.0">3</tspan></text>
<text x="224.9" y="83.82" class="tk" text-anchor="middle">360</text>
<text x="253.60" y="20.34" class="lb">Vβ<tspan dx="0.0">4</tspan></text>
<text x="258.7" y="83.82" class="tk" text-anchor="middle">360</text>
<text x="308.70" y="20.64" class="lb">Vβ<tspan dx="0.0">5.1</tspan></text>
<text x="315.5" y="83.82" class="tk" text-anchor="middle">400</text>
<text x="365.30" y="20.34" class="lb">Vβ<tspan dx="0.0">5.2-3</tspan></text>
<text x="397.7" y="83.82" class="tk" text-anchor="middle">360</text>
<text x="421.30" y="20.34" class="lb">Vβ<tspan dx="0.0">6.1-3</tspan></text>
<text x="454.5" y="83.82" class="tk" text-anchor="middle">360</text>
<text x="476.90" y="20.34" class="lb">Vβ<tspan dx="0.0">7</tspan></text>
<text x="493.3" y="83.82" class="tk" text-anchor="middle">360</text>
<text x="28.40" y="97.84" class="lb">Vβ<tspan dx="1.6">8</tspan></text>
<text x="33.25" y="162.32" class="tk" text-anchor="middle">400</text>
<text x="86.80" y="97.94" class="lb">Vβ<tspan dx="0.0">9</tspan></text>
<text x="115.2" y="162.32" class="tk" text-anchor="middle">360</text>
<text x="143.10" y="98.24" class="lb">Vβ<tspan dx="0.2">10</tspan></text>
<text x="174.9" y="162.32" class="tk" text-anchor="middle">360</text>
<text x="197.20" y="98.24" class="lb">Vβ<tspan dx="0.0">11</tspan></text>
<text x="212.7" y="162.32" class="tk" text-anchor="middle">360</text>
<text x="251.60" y="98.64" class="lb">Vβ<tspan dx="0.0">12</tspan></text>
<text x="256.1" y="162.32" class="tk" text-anchor="middle">360</text>
<text x="306.90" y="98.64" class="lb">Vβ<tspan dx="0.3">13.1</tspan></text>
<text x="309.2" y="162.32" class="tk" text-anchor="middle">360</text>
<text x="362.80" y="98.24" class="lb">Vβ<tspan dx="0.3">13.2</tspan></text>
<text x="385.0" y="162.32" class="tk" text-anchor="middle">400</text>
<text x="422.00" y="99.24" class="lb">Vβ<tspan dx="0.0">14</tspan></text>
<text x="441.2" y="162.32" class="tk" text-anchor="middle">360</text>
<text x="477.50" y="99.24" class="lb">Vβ<tspan dx="0.0">15</tspan></text>
<text x="497.5" y="162.32" class="tk" text-anchor="middle">360</text>
<text x="27.50" y="180.74" class="lb">Vβ<tspan dx="1.0">16</tspan></text>
<text x="43.25" y="244.32" class="tk" text-anchor="middle">400</text>
<text x="86.70" y="180.74" class="lb">Vβ<tspan dx="1.0">17</tspan></text>
<text x="104.0" y="244.32" class="tk" text-anchor="middle">400</text>
<text x="141.00" y="180.74" class="lb">Vβ<tspan dx="1.0">18</tspan></text>
<text x="178.6" y="244.32" class="tk" text-anchor="middle">400</text>
<text x="196.70" y="180.74" class="lb">Vβ<tspan dx="1.0">19</tspan></text>
<text x="231.8" y="244.32" class="tk" text-anchor="middle">360</text>
<text x="252.40" y="180.74" class="lb">Vβ<tspan dx="1.0">20</tspan></text>
<text x="254.0" y="244.32" class="tk" text-anchor="middle">360</text>
<text x="306.90" y="180.74" class="lb">Vβ<tspan dx="1.0">21</tspan></text>
<text x="330.7" y="244.32" class="tk" text-anchor="middle">320</text>
<text x="363.50" y="180.74" class="lb">Vβ<tspan dx="1.0">22</tspan></text>
<text x="365.7" y="244.32" class="tk" text-anchor="middle">480</text>
<text x="418.00" y="180.74" class="lb">Vβ<tspan dx="1.0">23</tspan></text>
<text x="436.8" y="244.32" class="tk" text-anchor="middle">440</text>
<text x="474.70" y="180.74" class="lb">Vβ<tspan dx="1.0">24</tspan></text>
<text x="508.2" y="244.32" class="tk" text-anchor="middle">520</text>
</svg>
</body></html>
